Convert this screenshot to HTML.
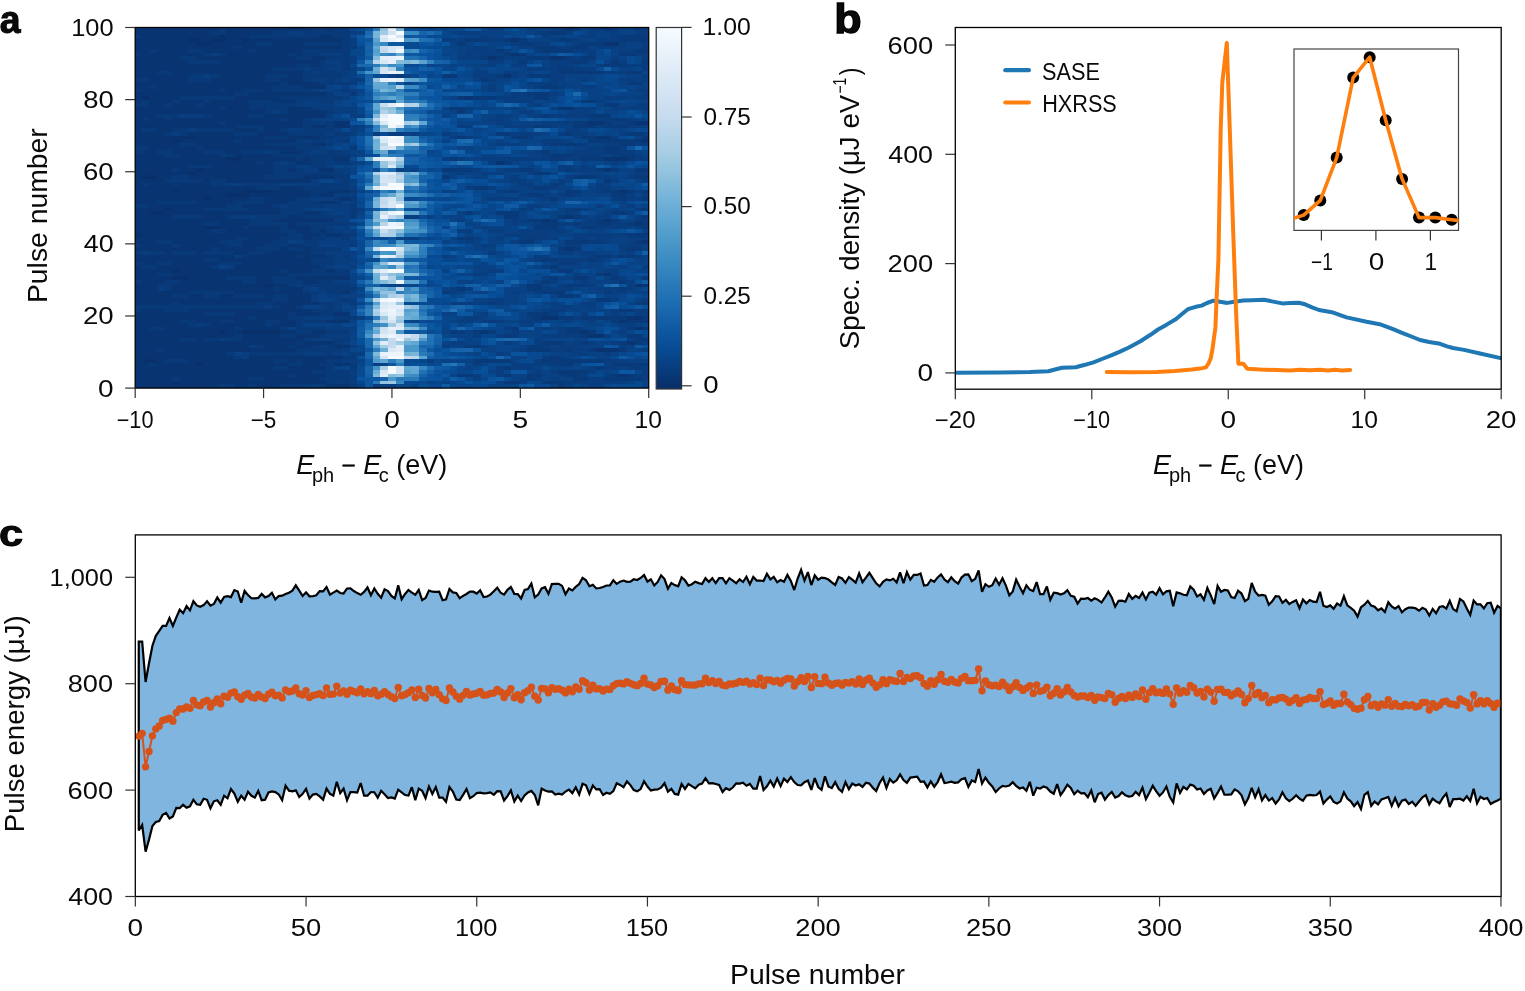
<!DOCTYPE html>
<html><head><meta charset="utf-8"><title>Figure</title>
<style>html,body{margin:0;padding:0;background:#fff;overflow:hidden}svg{display:block}
text{font-family:"Liberation Sans",Arial,sans-serif;fill:#0a0a0a}</style></head>
<body><svg width="1525" height="991" viewBox="0 0 1525 991">
<rect width="1525" height="991" fill="#fff"/>
<clipPath id="cpa"><rect x="135.2" y="27.5" width="513.5" height="360.6"/></clipPath>
<g clip-path="url(#cpa)"><g transform="translate(133.92,27.5) scale(7.7025,3.606)" shape-rendering="crispEdges">
<path fill="#083472" d="M0 99h11v1h-11zM13 99h2v1h-2zM16 99h3v1h-3zM25 99h3v1h-3zM0 98h25v1h-25zM0 97h5v1h-5zM6 97h9v1h-9zM17 97h7v1h-7zM0 96h20v1h-20zM21 96h4v1h-4zM63 96h1v1h-1zM0 95h23v1h-23zM0 94h18v1h-18zM20 94h5v1h-5zM0 93h2v1h-2zM3 93h5v1h-5zM9 93h11v1h-11zM22 93h2v1h-2zM26 93h2v1h-2zM0 92h1v1h-1zM3 92h1v1h-1zM7 92h11v1h-11zM20 92h1v1h-1zM22 92h3v1h-3zM0 91h13v1h-13zM15 91h12v1h-12zM0 90h12v1h-12zM0 89h3v1h-3zM4 89h17v1h-17zM60 89h3v1h-3zM0 88h15v1h-15zM17 88h3v1h-3zM21 88h2v1h-2zM26 88h2v1h-2zM0 87h21v1h-21zM22 87h4v1h-4zM64 87h1v1h-1zM0 86h6v1h-6zM8 86h1v1h-1zM14 86h8v1h-8zM0 85h13v1h-13zM14 85h5v1h-5zM21 85h3v1h-3zM59 85h2v1h-2zM0 84h11v1h-11zM12 84h2v1h-2zM19 84h2v1h-2zM23 84h2v1h-2zM45 84h1v1h-1zM58 84h1v1h-1zM0 83h2v1h-2zM4 83h9v1h-9zM14 83h5v1h-5zM65 83h1v1h-1zM0 82h7v1h-7zM10 82h7v1h-7zM18 82h3v1h-3zM0 81h6v1h-6zM8 81h3v1h-3zM13 81h4v1h-4zM19 81h2v1h-2zM25 81h3v1h-3zM63 81h1v1h-1zM0 80h15v1h-15zM16 80h4v1h-4zM53 80h2v1h-2zM64 80h2v1h-2zM0 79h9v1h-9zM13 79h7v1h-7zM21 79h3v1h-3zM26 79h2v1h-2zM1 78h3v1h-3zM7 78h16v1h-16zM19 77h2v1h-2zM0 76h5v1h-5zM6 76h10v1h-10zM18 76h6v1h-6zM0 75h18v1h-18zM20 75h3v1h-3zM0 74h5v1h-5zM7 74h2v1h-2zM11 74h2v1h-2zM17 74h1v1h-1zM20 74h3v1h-3zM0 73h7v1h-7zM13 73h9v1h-9zM27 73h1v1h-1zM0 72h3v1h-3zM5 72h13v1h-13zM19 72h3v1h-3zM0 71h3v1h-3zM5 71h12v1h-12zM18 71h2v1h-2zM65 71h2v1h-2zM1 70h3v1h-3zM6 70h8v1h-8zM16 70h2v1h-2zM22 70h2v1h-2zM0 69h5v1h-5zM7 69h5v1h-5zM16 69h2v1h-2zM21 69h7v1h-7zM0 68h3v1h-3zM5 68h15v1h-15zM61 68h1v1h-1zM0 67h5v1h-5zM6 67h13v1h-13zM20 67h3v1h-3zM25 67h1v1h-1zM0 66h1v1h-1zM3 66h7v1h-7zM13 66h11v1h-11zM1 65h2v1h-2zM5 65h6v1h-6zM14 65h9v1h-9zM0 64h9v1h-9zM11 64h12v1h-12zM0 63h13v1h-13zM15 63h6v1h-6zM22 63h3v1h-3zM4 62h1v1h-1zM8 62h1v1h-1zM13 62h2v1h-2zM17 62h6v1h-6zM0 61h10v1h-10zM11 61h5v1h-5zM19 61h1v1h-1zM22 61h1v1h-1zM56 61h1v1h-1zM1 60h4v1h-4zM6 60h6v1h-6zM14 60h3v1h-3zM20 60h2v1h-2zM0 59h3v1h-3zM5 59h6v1h-6zM14 59h4v1h-4zM66 59h1v1h-1zM0 58h13v1h-13zM15 58h4v1h-4zM22 58h1v1h-1zM1 57h19v1h-19zM22 57h2v1h-2zM25 57h2v1h-2zM0 56h10v1h-10zM12 56h7v1h-7zM21 56h2v1h-2zM24 56h1v1h-1zM0 55h9v1h-9zM11 55h3v1h-3zM15 55h4v1h-4zM20 55h3v1h-3zM0 54h9v1h-9zM11 54h4v1h-4zM20 54h1v1h-1zM65 54h1v1h-1zM0 53h15v1h-15zM18 53h8v1h-8zM53 53h1v1h-1zM61 53h1v1h-1zM0 52h5v1h-5zM9 52h3v1h-3zM20 52h2v1h-2zM56 52h1v1h-1zM0 51h2v1h-2zM4 51h15v1h-15zM22 51h2v1h-2zM0 50h4v1h-4zM5 50h4v1h-4zM15 50h4v1h-4zM2 49h10v1h-10zM14 49h4v1h-4zM0 48h3v1h-3zM8 48h5v1h-5zM17 48h3v1h-3zM24 48h2v1h-2zM0 47h9v1h-9zM10 47h5v1h-5zM17 47h4v1h-4zM27 47h1v1h-1zM0 46h12v1h-12zM15 46h8v1h-8zM24 46h2v1h-2zM0 45h5v1h-5zM6 45h8v1h-8zM18 45h5v1h-5zM25 45h3v1h-3zM63 45h1v1h-1zM0 44h16v1h-16zM19 44h3v1h-3zM0 43h1v1h-1zM2 43h8v1h-8zM0 42h4v1h-4zM9 42h1v1h-1zM12 42h11v1h-11zM0 41h1v1h-1zM3 41h2v1h-2zM7 41h10v1h-10zM22 41h4v1h-4zM0 40h7v1h-7zM8 40h10v1h-10zM0 39h5v1h-5zM6 39h2v1h-2zM9 39h9v1h-9zM20 39h1v1h-1zM24 39h2v1h-2zM61 39h1v1h-1zM0 38h7v1h-7zM10 38h8v1h-8zM0 37h16v1h-16zM17 37h1v1h-1zM21 37h2v1h-2zM47 37h1v1h-1zM0 36h12v1h-12zM14 36h7v1h-7zM22 36h1v1h-1zM26 36h2v1h-2zM61 36h3v1h-3zM0 35h4v1h-4zM6 35h5v1h-5zM13 35h5v1h-5zM1 34h2v1h-2zM5 34h4v1h-4zM12 34h2v1h-2zM19 34h3v1h-3zM2 33h6v1h-6zM9 33h12v1h-12zM0 32h6v1h-6zM8 32h9v1h-9zM23 32h2v1h-2zM0 31h5v1h-5zM6 31h7v1h-7zM14 31h7v1h-7zM66 31h1v1h-1zM0 30h6v1h-6zM8 30h9v1h-9zM20 30h4v1h-4zM60 30h2v1h-2zM0 29h4v1h-4zM7 29h6v1h-6zM16 29h4v1h-4zM0 28h1v1h-1zM3 28h2v1h-2zM13 28h3v1h-3zM17 28h2v1h-2zM0 27h13v1h-13zM17 27h5v1h-5zM23 27h2v1h-2zM26 27h2v1h-2zM0 26h11v1h-11zM12 26h10v1h-10zM26 26h2v1h-2zM59 26h2v1h-2zM65 26h2v1h-2zM0 25h1v1h-1zM2 25h2v1h-2zM5 25h14v1h-14zM20 25h2v1h-2zM0 24h3v1h-3zM10 24h5v1h-5zM17 24h8v1h-8zM0 23h17v1h-17zM20 23h5v1h-5zM0 22h11v1h-11zM12 22h3v1h-3zM16 22h1v1h-1zM20 22h3v1h-3zM55 22h2v1h-2zM2 21h2v1h-2zM5 21h3v1h-3zM9 21h6v1h-6zM0 20h1v1h-1zM2 20h3v1h-3zM6 20h3v1h-3zM10 20h5v1h-5zM18 20h3v1h-3zM0 19h1v1h-1zM2 19h4v1h-4zM13 19h6v1h-6zM43 19h1v1h-1zM0 18h13v1h-13zM15 18h10v1h-10zM1 17h10v1h-10zM12 17h2v1h-2zM17 17h1v1h-1zM0 16h2v1h-2zM3 16h15v1h-15zM22 16h3v1h-3zM0 15h19v1h-19zM20 15h4v1h-4zM2 14h5v1h-5zM10 14h7v1h-7zM19 14h3v1h-3zM0 13h7v1h-7zM11 13h6v1h-6zM20 13h2v1h-2zM48 13h1v1h-1zM0 12h3v1h-3zM5 12h17v1h-17zM0 11h18v1h-18zM0 10h21v1h-21zM23 10h1v1h-1zM0 9h7v1h-7zM11 9h13v1h-13zM0 8h6v1h-6zM8 8h13v1h-13zM23 8h2v1h-2zM46 8h1v1h-1zM54 8h2v1h-2zM1 7h8v1h-8zM12 7h8v1h-8zM21 7h1v1h-1zM49 7h1v1h-1zM0 6h2v1h-2zM3 6h4v1h-4zM9 6h6v1h-6zM16 6h6v1h-6zM0 5h13v1h-13zM14 5h13v1h-13zM0 4h8v1h-8zM10 4h6v1h-6zM18 4h4v1h-4zM61 4h2v1h-2zM0 3h7v1h-7zM9 3h1v1h-1zM12 3h2v1h-2zM15 3h12v1h-12zM49 3h1v1h-1zM1 2h10v1h-10zM12 2h3v1h-3zM24 2h2v1h-2zM0 1h10v1h-10zM12 1h6v1h-6zM0 0h11v1h-11zM12 0h11v1h-11zM25 0h1v1h-1zM56 0h1v1h-1zM61 0h1v1h-1z"/>
<path fill="#083978" d="M11 99h2v1h-2zM15 99h1v1h-1zM19 99h4v1h-4zM24 99h1v1h-1zM28 99h1v1h-1zM55 99h1v1h-1zM25 98h1v1h-1zM27 98h1v1h-1zM48 98h2v1h-2zM53 98h3v1h-3zM5 97h1v1h-1zM15 97h2v1h-2zM24 97h4v1h-4zM51 97h1v1h-1zM57 97h2v1h-2zM61 97h5v1h-5zM20 96h1v1h-1zM25 96h3v1h-3zM42 96h2v1h-2zM48 96h1v1h-1zM51 96h2v1h-2zM56 96h2v1h-2zM62 96h1v1h-1zM64 96h1v1h-1zM23 95h5v1h-5zM55 95h4v1h-4zM18 94h2v1h-2zM25 94h1v1h-1zM28 94h1v1h-1zM48 94h1v1h-1zM60 94h1v1h-1zM65 94h1v1h-1zM2 93h1v1h-1zM20 93h2v1h-2zM24 93h2v1h-2zM28 93h1v1h-1zM55 93h2v1h-2zM62 93h5v1h-5zM4 92h3v1h-3zM18 92h2v1h-2zM21 92h1v1h-1zM25 92h2v1h-2zM44 92h5v1h-5zM53 92h8v1h-8zM13 91h1v1h-1zM27 91h2v1h-2zM54 91h1v1h-1zM12 90h1v1h-1zM15 90h7v1h-7zM25 90h1v1h-1zM3 89h1v1h-1zM21 89h6v1h-6zM51 89h3v1h-3zM56 89h1v1h-1zM59 89h1v1h-1zM63 89h1v1h-1zM16 88h1v1h-1zM20 88h1v1h-1zM23 88h1v1h-1zM25 88h1v1h-1zM43 88h2v1h-2zM51 88h2v1h-2zM21 87h1v1h-1zM26 87h1v1h-1zM53 87h3v1h-3zM58 87h1v1h-1zM63 87h1v1h-1zM65 87h1v1h-1zM6 86h2v1h-2zM9 86h2v1h-2zM12 86h2v1h-2zM22 86h1v1h-1zM26 86h2v1h-2zM65 86h2v1h-2zM13 85h1v1h-1zM19 85h2v1h-2zM24 85h1v1h-1zM48 85h1v1h-1zM58 85h1v1h-1zM64 85h2v1h-2zM21 84h2v1h-2zM25 84h3v1h-3zM41 84h1v1h-1zM44 84h1v1h-1zM46 84h1v1h-1zM56 84h2v1h-2zM59 84h1v1h-1zM2 83h2v1h-2zM13 83h1v1h-1zM19 83h1v1h-1zM21 83h4v1h-4zM49 83h1v1h-1zM56 83h2v1h-2zM64 83h1v1h-1zM66 83h1v1h-1zM7 82h1v1h-1zM9 82h1v1h-1zM17 82h1v1h-1zM21 82h1v1h-1zM6 81h2v1h-2zM11 81h2v1h-2zM17 81h2v1h-2zM21 81h4v1h-4zM46 81h1v1h-1zM62 81h1v1h-1zM64 81h3v1h-3zM15 80h1v1h-1zM20 80h2v1h-2zM26 80h3v1h-3zM52 80h1v1h-1zM55 80h2v1h-2zM58 80h6v1h-6zM66 80h1v1h-1zM9 79h4v1h-4zM20 79h1v1h-1zM24 79h2v1h-2zM51 79h3v1h-3zM0 78h1v1h-1zM4 78h3v1h-3zM23 78h4v1h-4zM63 78h2v1h-2zM0 77h17v1h-17zM18 77h1v1h-1zM21 77h1v1h-1zM25 77h1v1h-1zM5 76h1v1h-1zM16 76h2v1h-2zM24 76h2v1h-2zM28 76h1v1h-1zM46 76h1v1h-1zM65 76h2v1h-2zM18 75h2v1h-2zM27 75h1v1h-1zM60 75h2v1h-2zM5 74h2v1h-2zM9 74h2v1h-2zM13 74h4v1h-4zM18 74h2v1h-2zM55 74h2v1h-2zM7 73h6v1h-6zM22 73h2v1h-2zM25 73h2v1h-2zM40 73h1v1h-1zM53 73h3v1h-3zM61 73h1v1h-1zM4 72h1v1h-1zM18 72h1v1h-1zM24 72h5v1h-5zM42 72h1v1h-1zM51 72h2v1h-2zM63 72h1v1h-1zM3 71h2v1h-2zM20 71h1v1h-1zM22 71h6v1h-6zM51 71h2v1h-2zM56 71h3v1h-3zM0 70h1v1h-1zM4 70h2v1h-2zM14 70h2v1h-2zM18 70h4v1h-4zM24 70h2v1h-2zM53 70h1v1h-1zM63 70h1v1h-1zM12 69h4v1h-4zM18 69h3v1h-3zM54 69h1v1h-1zM57 69h2v1h-2zM62 69h1v1h-1zM66 69h1v1h-1zM3 68h2v1h-2zM20 68h8v1h-8zM60 68h1v1h-1zM19 67h1v1h-1zM23 67h2v1h-2zM26 67h2v1h-2zM55 67h2v1h-2zM1 66h2v1h-2zM10 66h1v1h-1zM24 66h1v1h-1zM54 66h1v1h-1zM0 65h1v1h-1zM3 65h2v1h-2zM11 65h3v1h-3zM23 65h3v1h-3zM56 65h1v1h-1zM9 64h2v1h-2zM23 64h3v1h-3zM53 64h2v1h-2zM59 64h1v1h-1zM14 63h1v1h-1zM21 63h1v1h-1zM25 63h1v1h-1zM27 63h1v1h-1zM60 63h2v1h-2zM63 63h2v1h-2zM0 62h1v1h-1zM2 62h2v1h-2zM5 62h3v1h-3zM9 62h4v1h-4zM15 62h2v1h-2zM23 62h2v1h-2zM10 61h1v1h-1zM16 61h3v1h-3zM20 61h2v1h-2zM23 61h4v1h-4zM55 61h1v1h-1zM57 61h1v1h-1zM64 61h2v1h-2zM0 60h1v1h-1zM5 60h1v1h-1zM12 60h2v1h-2zM17 60h3v1h-3zM22 60h2v1h-2zM28 60h1v1h-1zM3 59h2v1h-2zM11 59h3v1h-3zM18 59h2v1h-2zM22 59h2v1h-2zM50 59h2v1h-2zM56 59h5v1h-5zM65 59h1v1h-1zM13 58h2v1h-2zM19 58h3v1h-3zM23 58h2v1h-2zM27 58h1v1h-1zM42 58h2v1h-2zM51 58h1v1h-1zM20 57h2v1h-2zM24 57h1v1h-1zM27 57h2v1h-2zM64 57h3v1h-3zM10 56h2v1h-2zM19 56h2v1h-2zM23 56h1v1h-1zM25 56h1v1h-1zM14 55h1v1h-1zM19 55h1v1h-1zM23 55h2v1h-2zM52 55h3v1h-3zM58 55h2v1h-2zM66 55h1v1h-1zM9 54h2v1h-2zM15 54h5v1h-5zM21 54h7v1h-7zM53 54h2v1h-2zM57 54h1v1h-1zM60 54h2v1h-2zM64 54h1v1h-1zM66 54h1v1h-1zM15 53h3v1h-3zM51 53h2v1h-2zM54 53h1v1h-1zM60 53h1v1h-1zM62 53h1v1h-1zM65 53h1v1h-1zM5 52h4v1h-4zM12 52h1v1h-1zM16 52h4v1h-4zM22 52h5v1h-5zM28 52h1v1h-1zM48 52h2v1h-2zM55 52h1v1h-1zM57 52h1v1h-1zM66 52h1v1h-1zM19 51h3v1h-3zM24 51h1v1h-1zM28 51h1v1h-1zM43 51h1v1h-1zM47 51h3v1h-3zM62 51h2v1h-2zM9 50h6v1h-6zM19 50h3v1h-3zM28 50h1v1h-1zM57 50h1v1h-1zM66 50h1v1h-1zM0 49h2v1h-2zM12 49h2v1h-2zM18 49h1v1h-1zM20 49h5v1h-5zM28 49h1v1h-1zM3 48h5v1h-5zM13 48h4v1h-4zM20 48h4v1h-4zM26 48h1v1h-1zM15 47h2v1h-2zM21 47h2v1h-2zM26 47h1v1h-1zM28 47h1v1h-1zM54 47h1v1h-1zM63 47h1v1h-1zM66 47h1v1h-1zM23 46h1v1h-1zM51 46h2v1h-2zM56 46h1v1h-1zM62 46h2v1h-2zM23 45h2v1h-2zM28 45h1v1h-1zM48 45h2v1h-2zM56 45h2v1h-2zM61 45h2v1h-2zM64 45h1v1h-1zM66 45h1v1h-1zM16 44h3v1h-3zM22 44h6v1h-6zM44 44h2v1h-2zM52 44h2v1h-2zM1 43h1v1h-1zM10 43h2v1h-2zM14 43h5v1h-5zM24 43h4v1h-4zM54 43h1v1h-1zM4 42h5v1h-5zM10 42h2v1h-2zM27 42h1v1h-1zM61 42h1v1h-1zM5 41h2v1h-2zM17 41h5v1h-5zM26 41h2v1h-2zM40 41h1v1h-1zM57 41h3v1h-3zM65 41h2v1h-2zM18 40h9v1h-9zM52 40h2v1h-2zM5 39h1v1h-1zM18 39h2v1h-2zM21 39h1v1h-1zM40 39h4v1h-4zM50 39h2v1h-2zM56 39h1v1h-1zM60 39h1v1h-1zM62 39h1v1h-1zM65 39h2v1h-2zM7 38h3v1h-3zM18 38h3v1h-3zM23 38h2v1h-2zM16 37h1v1h-1zM18 37h1v1h-1zM20 37h1v1h-1zM23 37h2v1h-2zM26 37h2v1h-2zM48 37h1v1h-1zM21 36h1v1h-1zM23 36h3v1h-3zM41 36h1v1h-1zM54 36h2v1h-2zM58 36h3v1h-3zM64 36h1v1h-1zM4 35h2v1h-2zM11 35h2v1h-2zM18 35h10v1h-10zM54 35h3v1h-3zM63 35h2v1h-2zM0 34h1v1h-1zM3 34h2v1h-2zM9 34h3v1h-3zM14 34h3v1h-3zM18 34h1v1h-1zM22 34h1v1h-1zM25 34h2v1h-2zM53 34h1v1h-1zM61 34h2v1h-2zM0 33h2v1h-2zM8 33h1v1h-1zM21 33h3v1h-3zM28 33h1v1h-1zM61 33h2v1h-2zM6 32h2v1h-2zM17 32h6v1h-6zM25 32h1v1h-1zM54 32h4v1h-4zM63 32h2v1h-2zM13 31h1v1h-1zM21 31h1v1h-1zM23 31h2v1h-2zM27 31h1v1h-1zM59 31h7v1h-7zM17 30h3v1h-3zM24 30h2v1h-2zM42 30h1v1h-1zM49 30h2v1h-2zM58 30h2v1h-2zM66 30h1v1h-1zM4 29h1v1h-1zM6 29h1v1h-1zM13 29h3v1h-3zM20 29h5v1h-5zM26 29h2v1h-2zM47 29h2v1h-2zM56 29h1v1h-1zM64 29h2v1h-2zM1 28h2v1h-2zM5 28h2v1h-2zM8 28h5v1h-5zM16 28h1v1h-1zM19 28h1v1h-1zM22 28h4v1h-4zM13 27h4v1h-4zM22 27h1v1h-1zM25 27h1v1h-1zM52 27h2v1h-2zM57 27h3v1h-3zM61 27h3v1h-3zM11 26h1v1h-1zM22 26h2v1h-2zM25 26h1v1h-1zM57 26h2v1h-2zM61 26h1v1h-1zM64 26h1v1h-1zM1 25h1v1h-1zM4 25h1v1h-1zM19 25h1v1h-1zM22 25h1v1h-1zM62 25h2v1h-2zM3 24h3v1h-3zM9 24h1v1h-1zM15 24h2v1h-2zM53 24h1v1h-1zM59 24h3v1h-3zM17 23h1v1h-1zM19 23h1v1h-1zM25 23h1v1h-1zM42 23h1v1h-1zM11 22h1v1h-1zM15 22h1v1h-1zM17 22h3v1h-3zM23 22h1v1h-1zM41 22h2v1h-2zM0 21h2v1h-2zM4 21h1v1h-1zM8 21h1v1h-1zM15 21h6v1h-6zM61 21h2v1h-2zM1 20h1v1h-1zM5 20h1v1h-1zM9 20h1v1h-1zM15 20h3v1h-3zM21 20h1v1h-1zM24 20h2v1h-2zM58 20h2v1h-2zM6 19h7v1h-7zM19 19h8v1h-8zM42 19h1v1h-1zM44 19h3v1h-3zM52 19h2v1h-2zM13 18h2v1h-2zM25 18h1v1h-1zM28 18h1v1h-1zM51 18h3v1h-3zM0 17h1v1h-1zM11 17h1v1h-1zM14 17h3v1h-3zM18 17h5v1h-5zM27 17h1v1h-1zM2 16h1v1h-1zM18 16h4v1h-4zM53 16h2v1h-2zM19 15h1v1h-1zM24 15h5v1h-5zM64 15h2v1h-2zM0 14h2v1h-2zM7 14h3v1h-3zM17 14h2v1h-2zM22 14h1v1h-1zM25 14h1v1h-1zM45 14h1v1h-1zM7 13h2v1h-2zM10 13h1v1h-1zM17 13h3v1h-3zM22 13h5v1h-5zM34 13h1v1h-1zM40 13h2v1h-2zM47 13h1v1h-1zM51 13h3v1h-3zM3 12h2v1h-2zM22 12h1v1h-1zM24 12h3v1h-3zM55 12h6v1h-6zM64 12h2v1h-2zM18 11h4v1h-4zM23 11h2v1h-2zM27 11h1v1h-1zM55 11h2v1h-2zM21 10h2v1h-2zM24 10h2v1h-2zM27 10h1v1h-1zM61 10h3v1h-3zM7 9h4v1h-4zM24 9h1v1h-1zM27 9h1v1h-1zM50 9h1v1h-1zM57 9h2v1h-2zM62 9h1v1h-1zM66 9h1v1h-1zM6 8h2v1h-2zM21 8h2v1h-2zM25 8h3v1h-3zM45 8h1v1h-1zM47 8h1v1h-1zM51 8h3v1h-3zM56 8h1v1h-1zM58 8h2v1h-2zM0 7h1v1h-1zM9 7h1v1h-1zM11 7h1v1h-1zM20 7h1v1h-1zM22 7h2v1h-2zM27 7h1v1h-1zM48 7h1v1h-1zM50 7h1v1h-1zM63 7h2v1h-2zM2 6h1v1h-1zM7 6h2v1h-2zM15 6h1v1h-1zM22 6h6v1h-6zM47 6h1v1h-1zM53 6h4v1h-4zM65 6h2v1h-2zM13 5h1v1h-1zM27 5h2v1h-2zM52 5h3v1h-3zM57 5h2v1h-2zM66 5h1v1h-1zM16 4h2v1h-2zM22 4h6v1h-6zM42 4h1v1h-1zM50 4h2v1h-2zM58 4h3v1h-3zM27 3h1v1h-1zM43 3h3v1h-3zM48 3h1v1h-1zM50 3h1v1h-1zM55 3h2v1h-2zM63 3h4v1h-4zM0 2h1v1h-1zM15 2h9v1h-9zM26 2h2v1h-2zM63 2h4v1h-4zM10 1h2v1h-2zM18 1h2v1h-2zM22 1h6v1h-6zM53 1h3v1h-3zM11 0h1v1h-1zM23 0h2v1h-2zM26 0h2v1h-2zM55 0h1v1h-1zM57 0h1v1h-1zM60 0h1v1h-1zM62 0h1v1h-1zM65 0h1v1h-1z"/>
<path fill="#083d7f" d="M23 99h1v1h-1zM31 99h3v1h-3zM56 99h1v1h-1zM59 99h2v1h-2zM26 98h1v1h-1zM28 98h1v1h-1zM50 98h1v1h-1zM56 98h8v1h-8zM28 97h1v1h-1zM44 97h1v1h-1zM50 97h1v1h-1zM52 97h1v1h-1zM54 97h1v1h-1zM59 97h2v1h-2zM66 97h1v1h-1zM28 96h1v1h-1zM44 96h1v1h-1zM47 96h1v1h-1zM55 96h1v1h-1zM58 96h1v1h-1zM61 96h1v1h-1zM65 96h2v1h-2zM28 95h1v1h-1zM47 95h1v1h-1zM52 95h1v1h-1zM54 95h1v1h-1zM59 95h1v1h-1zM66 95h1v1h-1zM47 94h1v1h-1zM49 94h3v1h-3zM59 94h1v1h-1zM61 94h2v1h-2zM64 94h1v1h-1zM66 94h1v1h-1zM31 93h1v1h-1zM44 93h1v1h-1zM49 93h6v1h-6zM27 92h2v1h-2zM38 92h1v1h-1zM52 92h1v1h-1zM61 92h3v1h-3zM14 91h1v1h-1zM53 91h1v1h-1zM55 91h1v1h-1zM14 90h1v1h-1zM22 90h3v1h-3zM26 90h1v1h-1zM28 90h2v1h-2zM47 90h1v1h-1zM57 90h2v1h-2zM61 90h1v1h-1zM27 89h1v1h-1zM50 89h1v1h-1zM54 89h2v1h-2zM57 89h2v1h-2zM66 89h1v1h-1zM15 88h1v1h-1zM24 88h1v1h-1zM28 88h1v1h-1zM40 88h1v1h-1zM45 88h1v1h-1zM53 88h1v1h-1zM55 88h3v1h-3zM63 88h1v1h-1zM27 87h1v1h-1zM41 87h2v1h-2zM48 87h1v1h-1zM52 87h1v1h-1zM57 87h1v1h-1zM59 87h1v1h-1zM62 87h1v1h-1zM66 87h1v1h-1zM11 86h1v1h-1zM23 86h3v1h-3zM52 86h1v1h-1zM25 85h3v1h-3zM44 85h1v1h-1zM47 85h1v1h-1zM49 85h1v1h-1zM53 85h5v1h-5zM61 85h1v1h-1zM42 84h1v1h-1zM49 84h1v1h-1zM55 84h1v1h-1zM63 84h1v1h-1zM25 83h4v1h-4zM48 83h1v1h-1zM53 83h1v1h-1zM55 83h1v1h-1zM8 82h1v1h-1zM26 82h1v1h-1zM51 82h1v1h-1zM63 82h2v1h-2zM42 81h2v1h-2zM45 81h1v1h-1zM47 81h1v1h-1zM50 81h3v1h-3zM56 81h1v1h-1zM59 81h1v1h-1zM22 80h4v1h-4zM29 80h1v1h-1zM43 80h2v1h-2zM51 80h1v1h-1zM57 80h1v1h-1zM45 79h1v1h-1zM54 79h1v1h-1zM58 79h1v1h-1zM62 79h1v1h-1zM65 79h2v1h-2zM53 78h3v1h-3zM62 78h1v1h-1zM65 78h2v1h-2zM17 77h1v1h-1zM24 77h1v1h-1zM26 77h1v1h-1zM55 77h2v1h-2zM59 77h1v1h-1zM26 76h2v1h-2zM41 76h5v1h-5zM47 76h1v1h-1zM54 76h1v1h-1zM58 76h2v1h-2zM23 75h1v1h-1zM26 75h1v1h-1zM28 75h1v1h-1zM46 75h2v1h-2zM62 75h1v1h-1zM66 75h1v1h-1zM23 74h1v1h-1zM25 74h2v1h-2zM57 74h1v1h-1zM24 73h1v1h-1zM28 73h1v1h-1zM41 73h1v1h-1zM49 73h1v1h-1zM52 73h1v1h-1zM62 73h2v1h-2zM66 73h1v1h-1zM3 72h1v1h-1zM22 72h1v1h-1zM41 72h1v1h-1zM43 72h1v1h-1zM53 72h4v1h-4zM60 72h3v1h-3zM64 72h1v1h-1zM21 71h1v1h-1zM28 71h1v1h-1zM55 71h1v1h-1zM59 71h1v1h-1zM64 71h1v1h-1zM26 70h2v1h-2zM54 70h1v1h-1zM58 70h1v1h-1zM62 70h1v1h-1zM64 70h1v1h-1zM53 69h1v1h-1zM63 69h1v1h-1zM44 68h2v1h-2zM57 68h1v1h-1zM62 68h1v1h-1zM46 67h2v1h-2zM61 67h2v1h-2zM12 66h1v1h-1zM25 66h1v1h-1zM28 66h1v1h-1zM53 66h1v1h-1zM63 66h1v1h-1zM66 66h1v1h-1zM26 65h2v1h-2zM55 65h1v1h-1zM57 65h1v1h-1zM26 64h3v1h-3zM52 64h1v1h-1zM55 64h4v1h-4zM60 64h1v1h-1zM13 63h1v1h-1zM26 63h1v1h-1zM40 63h1v1h-1zM52 63h2v1h-2zM59 63h1v1h-1zM62 63h1v1h-1zM65 63h1v1h-1zM1 62h1v1h-1zM25 62h4v1h-4zM46 62h1v1h-1zM55 62h2v1h-2zM58 62h2v1h-2zM64 62h1v1h-1zM63 61h1v1h-1zM26 60h2v1h-2zM45 60h2v1h-2zM56 60h2v1h-2zM63 60h3v1h-3zM21 59h1v1h-1zM24 59h5v1h-5zM43 59h1v1h-1zM49 59h1v1h-1zM61 59h1v1h-1zM64 59h1v1h-1zM25 58h2v1h-2zM35 58h2v1h-2zM44 58h1v1h-1zM47 58h1v1h-1zM50 58h1v1h-1zM52 58h3v1h-3zM57 58h2v1h-2zM60 58h2v1h-2zM64 58h3v1h-3zM48 57h6v1h-6zM57 57h7v1h-7zM26 56h3v1h-3zM42 56h2v1h-2zM46 56h2v1h-2zM50 56h6v1h-6zM25 55h1v1h-1zM27 55h1v1h-1zM45 55h1v1h-1zM60 55h4v1h-4zM65 55h1v1h-1zM28 54h1v1h-1zM49 54h1v1h-1zM52 54h1v1h-1zM55 54h2v1h-2zM58 54h2v1h-2zM62 54h2v1h-2zM26 53h2v1h-2zM42 53h1v1h-1zM49 53h2v1h-2zM59 53h1v1h-1zM66 53h1v1h-1zM13 52h3v1h-3zM27 52h1v1h-1zM35 52h2v1h-2zM58 52h1v1h-1zM60 52h2v1h-2zM65 52h1v1h-1zM25 51h1v1h-1zM27 51h1v1h-1zM56 51h1v1h-1zM61 51h1v1h-1zM64 51h1v1h-1zM22 50h1v1h-1zM26 50h2v1h-2zM29 50h1v1h-1zM50 50h2v1h-2zM56 50h1v1h-1zM58 50h1v1h-1zM62 50h1v1h-1zM65 50h1v1h-1zM19 49h1v1h-1zM25 49h3v1h-3zM51 49h2v1h-2zM60 49h1v1h-1zM64 49h1v1h-1zM28 48h1v1h-1zM23 47h3v1h-3zM46 47h4v1h-4zM53 47h1v1h-1zM62 47h1v1h-1zM64 47h2v1h-2zM26 46h3v1h-3zM50 46h1v1h-1zM53 46h1v1h-1zM55 46h1v1h-1zM57 46h1v1h-1zM64 46h1v1h-1zM66 46h1v1h-1zM47 45h1v1h-1zM60 45h1v1h-1zM65 45h1v1h-1zM28 44h1v1h-1zM43 44h1v1h-1zM46 44h1v1h-1zM51 44h1v1h-1zM54 44h1v1h-1zM60 44h2v1h-2zM12 43h2v1h-2zM19 43h5v1h-5zM50 43h2v1h-2zM55 43h1v1h-1zM60 43h2v1h-2zM23 42h1v1h-1zM26 42h1v1h-1zM28 42h1v1h-1zM49 42h2v1h-2zM55 42h1v1h-1zM62 42h1v1h-1zM66 42h1v1h-1zM49 41h1v1h-1zM56 41h1v1h-1zM60 41h2v1h-2zM64 41h1v1h-1zM27 40h1v1h-1zM42 40h1v1h-1zM45 40h3v1h-3zM51 40h1v1h-1zM65 40h2v1h-2zM22 39h2v1h-2zM26 39h2v1h-2zM44 39h1v1h-1zM48 39h2v1h-2zM55 39h1v1h-1zM57 39h3v1h-3zM21 38h2v1h-2zM25 38h1v1h-1zM55 38h2v1h-2zM58 38h1v1h-1zM19 37h1v1h-1zM25 37h1v1h-1zM28 37h1v1h-1zM46 37h1v1h-1zM62 37h1v1h-1zM40 36h1v1h-1zM42 36h1v1h-1zM45 36h9v1h-9zM56 36h2v1h-2zM65 36h2v1h-2zM28 35h1v1h-1zM53 35h1v1h-1zM57 35h4v1h-4zM62 35h1v1h-1zM65 35h1v1h-1zM17 34h1v1h-1zM23 34h2v1h-2zM27 34h1v1h-1zM52 34h1v1h-1zM57 34h4v1h-4zM63 34h2v1h-2zM24 33h1v1h-1zM59 33h2v1h-2zM63 33h1v1h-1zM47 32h3v1h-3zM53 32h1v1h-1zM58 32h1v1h-1zM61 32h2v1h-2zM65 32h2v1h-2zM22 31h1v1h-1zM25 31h2v1h-2zM53 31h3v1h-3zM26 30h2v1h-2zM41 30h1v1h-1zM43 30h1v1h-1zM51 30h1v1h-1zM62 30h1v1h-1zM5 29h1v1h-1zM25 29h1v1h-1zM28 29h1v1h-1zM31 29h1v1h-1zM33 29h2v1h-2zM36 29h1v1h-1zM40 29h1v1h-1zM49 29h4v1h-4zM55 29h1v1h-1zM57 29h2v1h-2zM63 29h1v1h-1zM66 29h1v1h-1zM7 28h1v1h-1zM20 28h2v1h-2zM26 28h1v1h-1zM28 28h1v1h-1zM56 28h2v1h-2zM28 27h2v1h-2zM42 27h2v1h-2zM48 27h4v1h-4zM54 27h1v1h-1zM60 27h1v1h-1zM64 27h2v1h-2zM24 26h1v1h-1zM47 26h2v1h-2zM53 26h4v1h-4zM62 26h2v1h-2zM23 25h1v1h-1zM46 25h2v1h-2zM59 25h3v1h-3zM64 25h1v1h-1zM6 24h3v1h-3zM25 24h1v1h-1zM28 24h2v1h-2zM47 24h2v1h-2zM52 24h1v1h-1zM54 24h5v1h-5zM18 23h1v1h-1zM26 23h3v1h-3zM50 23h2v1h-2zM57 23h2v1h-2zM24 22h5v1h-5zM43 22h1v1h-1zM49 22h1v1h-1zM54 22h1v1h-1zM57 22h3v1h-3zM62 22h5v1h-5zM21 21h5v1h-5zM52 21h1v1h-1zM65 21h2v1h-2zM22 20h2v1h-2zM48 20h4v1h-4zM60 20h1v1h-1zM27 19h1v1h-1zM47 19h5v1h-5zM61 19h3v1h-3zM65 19h2v1h-2zM49 18h2v1h-2zM54 18h1v1h-1zM66 18h1v1h-1zM23 17h1v1h-1zM26 17h1v1h-1zM28 17h1v1h-1zM46 17h1v1h-1zM65 17h2v1h-2zM27 16h1v1h-1zM46 16h1v1h-1zM52 16h1v1h-1zM55 16h1v1h-1zM58 16h2v1h-2zM51 15h4v1h-4zM23 14h2v1h-2zM26 14h1v1h-1zM28 14h2v1h-2zM46 14h1v1h-1zM54 14h2v1h-2zM58 14h1v1h-1zM63 14h2v1h-2zM66 14h1v1h-1zM9 13h1v1h-1zM27 13h1v1h-1zM33 13h1v1h-1zM44 13h3v1h-3zM49 13h1v1h-1zM54 13h2v1h-2zM66 13h1v1h-1zM23 12h1v1h-1zM27 12h1v1h-1zM44 12h2v1h-2zM48 12h2v1h-2zM54 12h1v1h-1zM61 12h3v1h-3zM22 11h1v1h-1zM25 11h2v1h-2zM28 11h1v1h-1zM51 11h4v1h-4zM57 11h3v1h-3zM66 11h1v1h-1zM26 10h1v1h-1zM45 10h2v1h-2zM49 10h2v1h-2zM54 10h3v1h-3zM60 10h1v1h-1zM64 10h3v1h-3zM25 9h2v1h-2zM28 9h1v1h-1zM46 9h2v1h-2zM54 9h3v1h-3zM63 9h1v1h-1zM28 8h1v1h-1zM42 8h3v1h-3zM48 8h3v1h-3zM57 8h1v1h-1zM62 8h1v1h-1zM66 8h1v1h-1zM10 7h1v1h-1zM24 7h3v1h-3zM43 7h1v1h-1zM45 7h3v1h-3zM59 7h1v1h-1zM65 7h2v1h-2zM43 6h4v1h-4zM48 6h1v1h-1zM52 6h1v1h-1zM57 6h3v1h-3zM63 6h2v1h-2zM44 5h2v1h-2zM50 5h2v1h-2zM55 5h2v1h-2zM60 5h4v1h-4zM28 4h1v1h-1zM49 4h1v1h-1zM52 4h2v1h-2zM57 4h1v1h-1zM63 4h1v1h-1zM66 4h1v1h-1zM28 3h1v1h-1zM40 3h3v1h-3zM46 3h2v1h-2zM54 3h1v1h-1zM57 3h1v1h-1zM60 3h3v1h-3zM45 2h1v1h-1zM53 2h1v1h-1zM58 2h2v1h-2zM62 2h1v1h-1zM20 1h2v1h-2zM28 1h1v1h-1zM42 1h3v1h-3zM52 1h1v1h-1zM56 1h1v1h-1zM59 1h1v1h-1zM62 1h1v1h-1zM65 1h2v1h-2zM46 0h2v1h-2zM51 0h1v1h-1zM54 0h1v1h-1zM59 0h1v1h-1zM66 0h1v1h-1z"/>
<path fill="#084285" d="M29 99h1v1h-1zM36 99h1v1h-1zM46 99h4v1h-4zM54 99h1v1h-1zM58 99h1v1h-1zM66 99h1v1h-1zM38 98h1v1h-1zM40 98h1v1h-1zM47 98h1v1h-1zM64 98h1v1h-1zM66 98h1v1h-1zM49 97h1v1h-1zM53 97h1v1h-1zM55 97h2v1h-2zM41 96h1v1h-1zM49 96h2v1h-2zM53 96h2v1h-2zM46 95h1v1h-1zM51 95h1v1h-1zM53 95h1v1h-1zM61 95h1v1h-1zM26 94h1v1h-1zM43 94h1v1h-1zM52 94h1v1h-1zM54 94h3v1h-3zM58 94h1v1h-1zM63 94h1v1h-1zM32 93h1v1h-1zM45 93h1v1h-1zM57 93h1v1h-1zM61 93h1v1h-1zM29 92h1v1h-1zM40 92h4v1h-4zM49 92h1v1h-1zM64 92h3v1h-3zM49 91h2v1h-2zM56 91h1v1h-1zM60 91h2v1h-2zM13 90h1v1h-1zM27 90h1v1h-1zM44 90h1v1h-1zM48 90h1v1h-1zM54 90h3v1h-3zM59 90h2v1h-2zM62 90h1v1h-1zM45 89h2v1h-2zM49 89h1v1h-1zM64 89h2v1h-2zM41 88h2v1h-2zM46 88h1v1h-1zM50 88h1v1h-1zM54 88h1v1h-1zM58 88h3v1h-3zM64 88h1v1h-1zM40 87h1v1h-1zM43 87h2v1h-2zM49 87h1v1h-1zM56 87h1v1h-1zM60 87h2v1h-2zM28 86h1v1h-1zM43 86h1v1h-1zM53 86h1v1h-1zM57 86h2v1h-2zM64 86h1v1h-1zM28 85h1v1h-1zM41 85h3v1h-3zM50 85h3v1h-3zM63 85h1v1h-1zM28 84h1v1h-1zM40 84h1v1h-1zM43 84h1v1h-1zM48 84h1v1h-1zM50 84h3v1h-3zM62 84h1v1h-1zM20 83h1v1h-1zM40 83h1v1h-1zM52 83h1v1h-1zM54 83h1v1h-1zM58 83h1v1h-1zM63 83h1v1h-1zM22 82h4v1h-4zM50 82h1v1h-1zM59 82h2v1h-2zM62 82h1v1h-1zM65 82h1v1h-1zM28 81h1v1h-1zM36 81h1v1h-1zM41 81h1v1h-1zM44 81h1v1h-1zM48 81h2v1h-2zM53 81h1v1h-1zM55 81h1v1h-1zM58 81h1v1h-1zM61 81h1v1h-1zM42 80h1v1h-1zM45 80h1v1h-1zM50 80h1v1h-1zM40 79h2v1h-2zM44 79h1v1h-1zM50 79h1v1h-1zM61 79h1v1h-1zM63 79h1v1h-1zM27 78h1v1h-1zM49 78h1v1h-1zM52 78h1v1h-1zM56 78h6v1h-6zM22 77h2v1h-2zM28 77h1v1h-1zM54 77h1v1h-1zM57 77h2v1h-2zM29 76h1v1h-1zM48 76h3v1h-3zM53 76h1v1h-1zM55 76h1v1h-1zM64 76h1v1h-1zM24 75h2v1h-2zM44 75h2v1h-2zM48 75h2v1h-2zM59 75h1v1h-1zM65 75h1v1h-1zM24 74h1v1h-1zM27 74h3v1h-3zM48 74h2v1h-2zM54 74h1v1h-1zM61 74h2v1h-2zM42 73h1v1h-1zM44 73h2v1h-2zM48 73h1v1h-1zM50 73h2v1h-2zM59 73h2v1h-2zM64 73h2v1h-2zM23 72h1v1h-1zM29 72h1v1h-1zM40 72h1v1h-1zM48 72h3v1h-3zM57 72h1v1h-1zM59 72h1v1h-1zM65 72h1v1h-1zM33 71h2v1h-2zM50 71h1v1h-1zM53 71h1v1h-1zM28 70h1v1h-1zM42 70h2v1h-2zM47 70h1v1h-1zM52 70h1v1h-1zM57 70h1v1h-1zM59 70h3v1h-3zM28 69h1v1h-1zM55 69h2v1h-2zM59 69h1v1h-1zM61 69h1v1h-1zM28 68h1v1h-1zM42 68h2v1h-2zM58 68h2v1h-2zM40 67h1v1h-1zM44 67h2v1h-2zM54 67h1v1h-1zM60 67h1v1h-1zM65 67h2v1h-2zM11 66h1v1h-1zM26 66h2v1h-2zM44 66h3v1h-3zM52 66h1v1h-1zM55 66h6v1h-6zM62 66h1v1h-1zM28 65h1v1h-1zM45 65h1v1h-1zM54 65h1v1h-1zM59 65h2v1h-2zM64 65h2v1h-2zM51 64h1v1h-1zM61 64h1v1h-1zM65 64h2v1h-2zM28 63h1v1h-1zM41 63h1v1h-1zM58 63h1v1h-1zM66 63h1v1h-1zM47 62h1v1h-1zM57 62h1v1h-1zM60 62h2v1h-2zM63 62h1v1h-1zM27 61h1v1h-1zM41 61h1v1h-1zM44 61h3v1h-3zM66 61h1v1h-1zM24 60h2v1h-2zM44 60h1v1h-1zM54 60h2v1h-2zM66 60h1v1h-1zM20 59h1v1h-1zM40 59h1v1h-1zM42 59h1v1h-1zM44 59h1v1h-1zM46 59h2v1h-2zM52 59h1v1h-1zM55 59h1v1h-1zM62 59h2v1h-2zM28 58h1v1h-1zM34 58h1v1h-1zM41 58h1v1h-1zM46 58h1v1h-1zM59 58h1v1h-1zM62 58h2v1h-2zM43 57h1v1h-1zM47 57h1v1h-1zM54 57h3v1h-3zM48 56h2v1h-2zM56 56h1v1h-1zM59 56h2v1h-2zM66 56h1v1h-1zM26 55h1v1h-1zM44 55h1v1h-1zM46 55h3v1h-3zM55 55h1v1h-1zM57 55h1v1h-1zM64 55h1v1h-1zM43 54h2v1h-2zM48 54h1v1h-1zM50 54h2v1h-2zM41 53h1v1h-1zM48 53h1v1h-1zM58 53h1v1h-1zM63 53h2v1h-2zM38 52h1v1h-1zM40 52h3v1h-3zM50 52h1v1h-1zM54 52h1v1h-1zM59 52h1v1h-1zM26 51h1v1h-1zM29 51h1v1h-1zM42 51h1v1h-1zM44 51h1v1h-1zM46 51h1v1h-1zM50 51h1v1h-1zM53 51h3v1h-3zM57 51h1v1h-1zM60 51h1v1h-1zM23 50h3v1h-3zM55 50h1v1h-1zM59 50h1v1h-1zM61 50h1v1h-1zM63 50h1v1h-1zM53 49h1v1h-1zM63 49h1v1h-1zM66 49h1v1h-1zM27 48h1v1h-1zM54 48h1v1h-1zM63 48h1v1h-1zM45 47h1v1h-1zM50 47h1v1h-1zM52 47h1v1h-1zM55 47h1v1h-1zM45 46h3v1h-3zM54 46h1v1h-1zM58 46h4v1h-4zM29 45h1v1h-1zM40 45h2v1h-2zM50 45h4v1h-4zM55 45h1v1h-1zM58 45h2v1h-2zM49 44h2v1h-2zM55 44h2v1h-2zM59 44h1v1h-1zM62 44h2v1h-2zM28 43h1v1h-1zM49 43h1v1h-1zM53 43h1v1h-1zM47 42h2v1h-2zM51 42h1v1h-1zM56 42h1v1h-1zM65 42h1v1h-1zM41 41h1v1h-1zM44 41h2v1h-2zM48 41h1v1h-1zM62 41h2v1h-2zM28 40h1v1h-1zM41 40h1v1h-1zM43 40h2v1h-2zM48 40h1v1h-1zM54 40h1v1h-1zM58 40h3v1h-3zM64 40h1v1h-1zM28 39h1v1h-1zM34 39h1v1h-1zM36 39h1v1h-1zM47 39h1v1h-1zM52 39h1v1h-1zM63 39h2v1h-2zM27 38h1v1h-1zM51 38h1v1h-1zM57 38h1v1h-1zM59 38h1v1h-1zM29 37h1v1h-1zM49 37h1v1h-1zM58 37h1v1h-1zM61 37h1v1h-1zM63 37h1v1h-1zM43 36h2v1h-2zM29 35h1v1h-1zM45 35h3v1h-3zM51 35h2v1h-2zM61 35h1v1h-1zM66 35h1v1h-1zM28 34h2v1h-2zM50 34h2v1h-2zM54 34h1v1h-1zM56 34h1v1h-1zM65 34h1v1h-1zM25 33h1v1h-1zM42 33h2v1h-2zM57 33h2v1h-2zM26 32h1v1h-1zM28 32h1v1h-1zM46 32h1v1h-1zM50 32h1v1h-1zM59 32h2v1h-2zM40 31h1v1h-1zM47 31h1v1h-1zM50 31h3v1h-3zM56 31h1v1h-1zM44 30h1v1h-1zM57 30h1v1h-1zM65 30h1v1h-1zM35 29h1v1h-1zM41 29h1v1h-1zM53 29h1v1h-1zM59 29h1v1h-1zM61 29h1v1h-1zM29 28h1v1h-1zM44 28h1v1h-1zM58 28h1v1h-1zM62 28h2v1h-2zM55 27h2v1h-2zM66 27h1v1h-1zM42 26h5v1h-5zM49 26h4v1h-4zM24 25h4v1h-4zM45 25h1v1h-1zM48 25h1v1h-1zM65 25h2v1h-2zM40 24h1v1h-1zM45 24h2v1h-2zM49 24h1v1h-1zM51 24h1v1h-1zM41 23h1v1h-1zM43 23h1v1h-1zM56 23h1v1h-1zM59 23h1v1h-1zM61 23h2v1h-2zM66 23h1v1h-1zM40 22h1v1h-1zM44 22h3v1h-3zM48 22h1v1h-1zM50 22h1v1h-1zM26 21h1v1h-1zM28 21h1v1h-1zM51 21h1v1h-1zM60 21h1v1h-1zM63 21h2v1h-2zM26 20h1v1h-1zM53 20h2v1h-2zM61 20h1v1h-1zM66 20h1v1h-1zM41 19h1v1h-1zM54 19h1v1h-1zM59 19h2v1h-2zM64 19h1v1h-1zM26 18h2v1h-2zM48 18h1v1h-1zM55 18h1v1h-1zM59 18h2v1h-2zM63 18h3v1h-3zM24 17h2v1h-2zM29 17h1v1h-1zM45 17h1v1h-1zM47 17h1v1h-1zM58 17h4v1h-4zM64 17h1v1h-1zM25 16h1v1h-1zM45 16h1v1h-1zM51 16h1v1h-1zM56 16h2v1h-2zM60 16h1v1h-1zM63 16h1v1h-1zM65 16h2v1h-2zM35 15h1v1h-1zM46 15h2v1h-2zM55 15h3v1h-3zM61 15h1v1h-1zM63 15h1v1h-1zM66 15h1v1h-1zM27 14h1v1h-1zM44 14h1v1h-1zM47 14h2v1h-2zM57 14h1v1h-1zM59 14h1v1h-1zM65 14h1v1h-1zM28 13h1v1h-1zM35 13h1v1h-1zM50 13h1v1h-1zM56 13h4v1h-4zM64 13h2v1h-2zM28 12h1v1h-1zM50 12h2v1h-2zM44 11h1v1h-1zM50 11h1v1h-1zM63 11h2v1h-2zM38 10h1v1h-1zM41 10h1v1h-1zM43 10h2v1h-2zM53 10h1v1h-1zM57 10h1v1h-1zM49 9h1v1h-1zM51 9h1v1h-1zM53 9h1v1h-1zM59 9h1v1h-1zM61 9h1v1h-1zM63 8h1v1h-1zM40 7h1v1h-1zM42 7h1v1h-1zM44 7h1v1h-1zM51 7h1v1h-1zM62 7h1v1h-1zM42 6h1v1h-1zM62 6h1v1h-1zM41 5h3v1h-3zM46 5h1v1h-1zM59 5h1v1h-1zM64 5h2v1h-2zM41 4h1v1h-1zM43 4h1v1h-1zM46 4h3v1h-3zM56 4h1v1h-1zM64 4h2v1h-2zM51 3h3v1h-3zM58 3h2v1h-2zM43 2h2v1h-2zM46 2h2v1h-2zM54 2h2v1h-2zM57 2h1v1h-1zM60 2h2v1h-2zM29 1h1v1h-1zM41 1h1v1h-1zM45 1h4v1h-4zM51 1h1v1h-1zM60 1h2v1h-2zM63 1h2v1h-2zM38 0h1v1h-1zM40 0h1v1h-1zM52 0h2v1h-2zM58 0h1v1h-1zM63 0h2v1h-2z"/>
<path fill="#0d57a1" d="M30 99h1v1h-1zM50 99h1v1h-1zM30 98h1v1h-1zM30 97h2v1h-2zM37 97h1v1h-1zM47 97h1v1h-1zM40 96h1v1h-1zM49 95h1v1h-1zM63 95h2v1h-2zM40 94h1v1h-1zM30 93h1v1h-1zM33 93h1v1h-1zM60 93h1v1h-1zM30 92h1v1h-1zM39 91h2v1h-2zM48 91h1v1h-1zM39 90h1v1h-1zM30 89h1v1h-1zM38 89h1v1h-1zM39 88h1v1h-1zM61 88h1v1h-1zM65 88h1v1h-1zM46 86h1v1h-1zM35 84h3v1h-3zM38 83h1v1h-1zM43 83h1v1h-1zM29 82h1v1h-1zM38 82h1v1h-1zM29 81h1v1h-1zM38 79h1v1h-1zM42 79h2v1h-2zM47 79h2v1h-2zM39 78h1v1h-1zM46 78h1v1h-1zM29 77h1v1h-1zM40 77h1v1h-1zM65 77h1v1h-1zM30 76h1v1h-1zM62 76h1v1h-1zM52 75h1v1h-1zM30 74h1v1h-1zM39 74h1v1h-1zM44 74h2v1h-2zM39 73h1v1h-1zM44 72h1v1h-1zM40 71h1v1h-1zM48 70h1v1h-1zM35 69h2v1h-2zM47 68h2v1h-2zM55 68h1v1h-1zM37 66h1v1h-1zM62 65h1v1h-1zM37 64h1v1h-1zM48 64h1v1h-1zM38 61h1v1h-1zM49 61h1v1h-1zM41 60h1v1h-1zM48 60h2v1h-2zM35 59h3v1h-3zM40 57h1v1h-1zM64 56h1v1h-1zM40 54h1v1h-1zM42 54h1v1h-1zM38 53h1v1h-1zM56 53h1v1h-1zM30 52h1v1h-1zM63 52h1v1h-1zM41 51h1v1h-1zM31 50h1v1h-1zM42 50h1v1h-1zM53 50h1v1h-1zM44 49h1v1h-1zM42 48h1v1h-1zM58 48h1v1h-1zM30 47h1v1h-1zM43 47h1v1h-1zM41 46h3v1h-3zM31 45h1v1h-1zM38 44h1v1h-1zM29 43h1v1h-1zM38 43h1v1h-1zM41 43h1v1h-1zM59 42h1v1h-1zM39 41h1v1h-1zM39 40h1v1h-1zM30 39h1v1h-1zM30 38h1v1h-1zM38 38h1v1h-1zM45 38h1v1h-1zM47 38h2v1h-2zM53 38h1v1h-1zM38 37h1v1h-1zM44 37h1v1h-1zM55 37h1v1h-1zM37 36h1v1h-1zM35 35h2v1h-2zM30 34h1v1h-1zM40 34h1v1h-1zM39 33h1v1h-1zM48 33h1v1h-1zM40 32h2v1h-2zM38 31h1v1h-1zM29 30h1v1h-1zM38 30h1v1h-1zM47 30h1v1h-1zM30 28h1v1h-1zM37 28h1v1h-1zM42 28h1v1h-1zM48 28h1v1h-1zM38 27h1v1h-1zM29 26h1v1h-1zM39 26h1v1h-1zM38 25h1v1h-1zM50 25h1v1h-1zM53 25h2v1h-2zM39 22h1v1h-1zM40 21h1v1h-1zM32 20h2v1h-2zM39 20h1v1h-1zM43 20h1v1h-1zM30 19h1v1h-1zM37 19h1v1h-1zM40 18h1v1h-1zM35 17h2v1h-2zM39 17h1v1h-1zM52 17h1v1h-1zM34 15h1v1h-1zM38 14h1v1h-1zM36 12h1v1h-1zM30 11h1v1h-1zM35 11h1v1h-1zM52 10h1v1h-1zM29 9h1v1h-1zM35 7h2v1h-2zM56 7h1v1h-1zM33 4h2v1h-2zM38 4h1v1h-1zM30 3h1v1h-1zM29 2h1v1h-1zM35 2h3v1h-3zM51 2h1v1h-1zM30 0h1v1h-1zM43 0h2v1h-2z"/>
<path fill="#08468c" d="M34 99h2v1h-2zM42 99h2v1h-2zM57 99h1v1h-1zM61 99h1v1h-1zM29 98h1v1h-1zM39 98h1v1h-1zM41 98h1v1h-1zM52 98h1v1h-1zM43 97h1v1h-1zM45 97h1v1h-1zM42 95h2v1h-2zM48 95h1v1h-1zM60 95h1v1h-1zM62 95h1v1h-1zM65 95h1v1h-1zM27 94h1v1h-1zM42 94h1v1h-1zM44 94h1v1h-1zM46 94h1v1h-1zM57 94h1v1h-1zM29 93h1v1h-1zM38 93h1v1h-1zM43 93h1v1h-1zM37 92h1v1h-1zM39 92h1v1h-1zM45 91h1v1h-1zM57 91h1v1h-1zM65 91h1v1h-1zM43 90h1v1h-1zM46 90h1v1h-1zM53 90h1v1h-1zM63 90h1v1h-1zM28 89h2v1h-2zM47 89h2v1h-2zM29 88h1v1h-1zM47 88h3v1h-3zM28 87h1v1h-1zM47 87h1v1h-1zM44 86h1v1h-1zM54 86h3v1h-3zM40 85h1v1h-1zM45 85h2v1h-2zM62 85h1v1h-1zM66 85h1v1h-1zM47 84h1v1h-1zM54 84h1v1h-1zM60 84h1v1h-1zM64 84h1v1h-1zM46 83h2v1h-2zM59 83h1v1h-1zM27 82h2v1h-2zM40 82h1v1h-1zM42 82h1v1h-1zM47 82h2v1h-2zM54 82h2v1h-2zM58 82h1v1h-1zM66 82h1v1h-1zM40 81h1v1h-1zM54 81h1v1h-1zM57 81h1v1h-1zM60 81h1v1h-1zM40 80h2v1h-2zM46 80h2v1h-2zM28 79h1v1h-1zM55 79h1v1h-1zM57 79h1v1h-1zM64 79h1v1h-1zM28 78h1v1h-1zM48 78h1v1h-1zM50 78h2v1h-2zM27 77h1v1h-1zM47 77h2v1h-2zM52 77h2v1h-2zM60 77h1v1h-1zM40 76h1v1h-1zM57 76h1v1h-1zM60 76h1v1h-1zM50 75h1v1h-1zM63 75h1v1h-1zM41 74h1v1h-1zM50 74h1v1h-1zM52 74h1v1h-1zM63 74h1v1h-1zM66 74h1v1h-1zM43 73h1v1h-1zM58 73h1v1h-1zM58 72h1v1h-1zM35 71h2v1h-2zM38 71h1v1h-1zM54 71h1v1h-1zM60 71h1v1h-1zM44 70h1v1h-1zM46 70h1v1h-1zM55 70h1v1h-1zM29 69h1v1h-1zM44 69h2v1h-2zM64 69h2v1h-2zM46 68h1v1h-1zM52 68h1v1h-1zM56 68h1v1h-1zM50 67h1v1h-1zM57 67h1v1h-1zM59 67h1v1h-1zM63 67h2v1h-2zM38 66h1v1h-1zM42 66h2v1h-2zM51 66h1v1h-1zM61 66h1v1h-1zM64 66h1v1h-1zM29 65h1v1h-1zM44 65h1v1h-1zM53 65h1v1h-1zM58 65h1v1h-1zM66 65h1v1h-1zM40 64h2v1h-2zM43 64h2v1h-2zM50 64h1v1h-1zM47 63h2v1h-2zM55 63h3v1h-3zM29 62h1v1h-1zM45 62h1v1h-1zM54 62h1v1h-1zM62 62h1v1h-1zM40 61h1v1h-1zM42 61h2v1h-2zM60 61h1v1h-1zM58 60h1v1h-1zM62 60h1v1h-1zM41 59h1v1h-1zM48 59h1v1h-1zM38 58h1v1h-1zM45 58h1v1h-1zM48 58h1v1h-1zM56 58h1v1h-1zM44 57h1v1h-1zM46 57h1v1h-1zM45 56h1v1h-1zM58 56h1v1h-1zM61 56h1v1h-1zM40 55h1v1h-1zM49 55h1v1h-1zM51 55h1v1h-1zM29 54h1v1h-1zM43 53h1v1h-1zM29 52h1v1h-1zM45 52h1v1h-1zM47 52h1v1h-1zM51 52h1v1h-1zM64 52h1v1h-1zM45 51h1v1h-1zM52 51h1v1h-1zM40 50h1v1h-1zM45 50h2v1h-2zM49 50h1v1h-1zM60 50h1v1h-1zM64 50h1v1h-1zM41 49h2v1h-2zM46 49h1v1h-1zM50 49h1v1h-1zM54 49h1v1h-1zM59 49h1v1h-1zM61 49h1v1h-1zM65 49h1v1h-1zM29 48h1v1h-1zM44 48h2v1h-2zM52 48h2v1h-2zM62 48h1v1h-1zM40 47h1v1h-1zM51 47h1v1h-1zM56 47h4v1h-4zM48 46h2v1h-2zM65 46h1v1h-1zM44 45h2v1h-2zM47 44h2v1h-2zM64 44h1v1h-1zM43 43h1v1h-1zM52 43h1v1h-1zM59 43h1v1h-1zM64 43h1v1h-1zM24 42h2v1h-2zM40 42h1v1h-1zM46 42h1v1h-1zM52 42h1v1h-1zM54 42h1v1h-1zM60 42h1v1h-1zM63 42h1v1h-1zM43 41h1v1h-1zM50 41h1v1h-1zM52 41h1v1h-1zM40 40h1v1h-1zM49 40h2v1h-2zM57 40h1v1h-1zM61 40h3v1h-3zM35 39h1v1h-1zM38 39h1v1h-1zM45 39h1v1h-1zM26 38h1v1h-1zM28 38h1v1h-1zM42 38h1v1h-1zM50 38h1v1h-1zM52 38h1v1h-1zM62 38h1v1h-1zM66 38h1v1h-1zM50 37h2v1h-2zM59 37h2v1h-2zM48 35h1v1h-1zM50 35h1v1h-1zM38 34h1v1h-1zM43 34h2v1h-2zM49 34h1v1h-1zM55 34h1v1h-1zM66 34h1v1h-1zM27 33h1v1h-1zM44 33h3v1h-3zM54 33h1v1h-1zM56 33h1v1h-1zM27 32h1v1h-1zM51 32h2v1h-2zM45 31h2v1h-2zM48 31h1v1h-1zM57 31h2v1h-2zM45 30h1v1h-1zM48 30h1v1h-1zM52 30h3v1h-3zM29 29h1v1h-1zM37 29h2v1h-2zM42 29h1v1h-1zM44 29h1v1h-1zM46 29h1v1h-1zM60 29h1v1h-1zM62 29h1v1h-1zM45 28h1v1h-1zM50 28h1v1h-1zM61 28h1v1h-1zM64 28h1v1h-1zM47 27h1v1h-1zM42 25h1v1h-1zM49 25h1v1h-1zM56 25h3v1h-3zM26 24h1v1h-1zM62 24h1v1h-1zM29 23h1v1h-1zM40 23h1v1h-1zM49 23h1v1h-1zM52 23h1v1h-1zM55 23h1v1h-1zM63 23h1v1h-1zM29 22h1v1h-1zM47 22h1v1h-1zM60 22h2v1h-2zM27 21h1v1h-1zM45 21h1v1h-1zM53 21h1v1h-1zM27 20h2v1h-2zM45 20h1v1h-1zM47 20h1v1h-1zM52 20h1v1h-1zM57 20h1v1h-1zM62 20h1v1h-1zM64 20h2v1h-2zM28 19h1v1h-1zM40 19h1v1h-1zM29 18h1v1h-1zM47 18h1v1h-1zM61 18h2v1h-2zM40 17h2v1h-2zM43 17h2v1h-2zM54 17h2v1h-2zM26 16h1v1h-1zM42 16h1v1h-1zM47 16h1v1h-1zM50 16h1v1h-1zM62 16h1v1h-1zM64 16h1v1h-1zM45 15h1v1h-1zM48 15h1v1h-1zM50 15h1v1h-1zM60 15h1v1h-1zM62 15h1v1h-1zM49 14h2v1h-2zM53 14h1v1h-1zM56 14h1v1h-1zM60 14h1v1h-1zM62 14h1v1h-1zM36 13h1v1h-1zM38 13h1v1h-1zM42 13h2v1h-2zM60 13h1v1h-1zM63 13h1v1h-1zM43 12h1v1h-1zM46 12h2v1h-2zM52 12h2v1h-2zM66 12h1v1h-1zM29 11h1v1h-1zM40 11h2v1h-2zM45 11h1v1h-1zM47 11h3v1h-3zM65 11h1v1h-1zM28 10h1v1h-1zM39 10h2v1h-2zM42 10h1v1h-1zM47 10h1v1h-1zM58 10h2v1h-2zM42 9h4v1h-4zM48 9h1v1h-1zM65 9h1v1h-1zM41 8h1v1h-1zM60 8h2v1h-2zM65 8h1v1h-1zM28 7h2v1h-2zM41 7h1v1h-1zM52 7h2v1h-2zM58 7h1v1h-1zM60 7h1v1h-1zM28 6h2v1h-2zM40 6h2v1h-2zM49 6h1v1h-1zM60 6h1v1h-1zM29 5h1v1h-1zM40 5h1v1h-1zM47 5h1v1h-1zM49 5h1v1h-1zM45 4h1v1h-1zM54 4h1v1h-1zM40 2h1v1h-1zM42 2h1v1h-1zM49 2h1v1h-1zM56 2h1v1h-1zM40 1h1v1h-1zM49 1h2v1h-2zM58 1h1v1h-1zM28 0h1v1h-1zM37 0h1v1h-1zM39 0h1v1h-1zM41 0h1v1h-1zM45 0h1v1h-1zM50 0h1v1h-1z"/>
<path fill="#084f99" d="M37 99h1v1h-1zM45 98h2v1h-2zM39 96h1v1h-1zM40 95h1v1h-1zM44 95h2v1h-2zM41 94h1v1h-1zM45 94h1v1h-1zM36 93h2v1h-2zM58 93h1v1h-1zM29 91h1v1h-1zM43 91h1v1h-1zM46 91h1v1h-1zM58 91h1v1h-1zM64 91h1v1h-1zM40 90h1v1h-1zM45 90h1v1h-1zM65 90h1v1h-1zM39 89h1v1h-1zM66 88h1v1h-1zM29 87h1v1h-1zM45 87h1v1h-1zM29 86h1v1h-1zM45 86h1v1h-1zM59 86h2v1h-2zM62 86h1v1h-1zM39 84h1v1h-1zM65 84h1v1h-1zM44 83h1v1h-1zM61 83h2v1h-2zM39 82h1v1h-1zM41 82h1v1h-1zM52 82h1v1h-1zM39 79h1v1h-1zM56 79h1v1h-1zM45 77h1v1h-1zM49 77h1v1h-1zM64 77h1v1h-1zM66 77h1v1h-1zM56 76h1v1h-1zM61 76h1v1h-1zM63 76h1v1h-1zM41 75h1v1h-1zM43 75h1v1h-1zM53 75h1v1h-1zM55 75h3v1h-3zM40 74h1v1h-1zM46 74h1v1h-1zM53 74h1v1h-1zM64 74h1v1h-1zM47 73h1v1h-1zM47 72h1v1h-1zM29 71h1v1h-1zM37 71h1v1h-1zM41 71h2v1h-2zM45 71h1v1h-1zM39 70h1v1h-1zM41 70h1v1h-1zM65 70h1v1h-1zM42 69h2v1h-2zM48 69h2v1h-2zM29 68h1v1h-1zM40 68h1v1h-1zM49 68h2v1h-2zM65 68h2v1h-2zM43 67h1v1h-1zM48 67h1v1h-1zM51 67h3v1h-3zM58 67h1v1h-1zM29 66h1v1h-1zM48 66h1v1h-1zM50 66h1v1h-1zM38 65h2v1h-2zM46 65h1v1h-1zM50 65h1v1h-1zM38 64h2v1h-2zM46 64h1v1h-1zM63 64h1v1h-1zM29 63h1v1h-1zM40 62h1v1h-1zM42 62h1v1h-1zM51 62h2v1h-2zM47 61h1v1h-1zM50 60h1v1h-1zM53 60h1v1h-1zM54 59h1v1h-1zM29 58h1v1h-1zM40 58h1v1h-1zM39 57h1v1h-1zM29 56h1v1h-1zM44 56h1v1h-1zM63 56h1v1h-1zM65 56h1v1h-1zM46 54h2v1h-2zM28 53h1v1h-1zM39 53h2v1h-2zM47 53h1v1h-1zM43 52h1v1h-1zM39 51h1v1h-1zM58 51h1v1h-1zM65 51h1v1h-1zM36 50h1v1h-1zM39 50h1v1h-1zM41 50h1v1h-1zM44 50h1v1h-1zM47 50h1v1h-1zM54 50h1v1h-1zM43 49h1v1h-1zM45 49h1v1h-1zM62 49h1v1h-1zM46 48h1v1h-1zM51 48h1v1h-1zM59 48h3v1h-3zM65 48h2v1h-2zM37 47h1v1h-1zM42 47h1v1h-1zM44 47h1v1h-1zM29 46h1v1h-1zM38 45h2v1h-2zM29 44h1v1h-1zM58 44h1v1h-1zM66 44h1v1h-1zM39 43h1v1h-1zM47 43h1v1h-1zM29 42h1v1h-1zM39 42h1v1h-1zM44 42h2v1h-2zM53 42h1v1h-1zM46 41h1v1h-1zM51 41h1v1h-1zM53 41h1v1h-1zM37 39h1v1h-1zM29 38h1v1h-1zM40 38h1v1h-1zM54 38h1v1h-1zM66 37h1v1h-1zM39 36h1v1h-1zM31 35h1v1h-1zM41 35h1v1h-1zM29 33h1v1h-1zM47 33h1v1h-1zM49 33h1v1h-1zM44 32h1v1h-1zM39 31h1v1h-1zM41 31h1v1h-1zM64 30h1v1h-1zM30 29h1v1h-1zM38 28h2v1h-2zM41 28h1v1h-1zM47 28h1v1h-1zM49 28h1v1h-1zM51 28h1v1h-1zM39 27h1v1h-1zM41 27h1v1h-1zM41 25h1v1h-1zM55 25h1v1h-1zM27 24h1v1h-1zM48 23h1v1h-1zM53 23h1v1h-1zM64 23h1v1h-1zM41 21h1v1h-1zM43 21h1v1h-1zM50 21h1v1h-1zM54 21h1v1h-1zM56 21h1v1h-1zM58 21h2v1h-2zM46 20h1v1h-1zM29 19h1v1h-1zM56 19h1v1h-1zM44 18h1v1h-1zM58 18h1v1h-1zM56 17h1v1h-1zM62 17h1v1h-1zM39 16h1v1h-1zM43 16h2v1h-2zM49 16h1v1h-1zM38 15h2v1h-2zM41 15h2v1h-2zM49 15h1v1h-1zM59 15h1v1h-1zM51 14h1v1h-1zM37 12h1v1h-1zM39 12h1v1h-1zM41 9h1v1h-1zM60 9h1v1h-1zM39 8h1v1h-1zM39 7h1v1h-1zM54 7h1v1h-1zM57 7h1v1h-1zM61 6h1v1h-1zM37 5h1v1h-1zM48 5h1v1h-1zM29 4h1v1h-1zM39 4h1v1h-1zM49 0h1v1h-1z"/>
<path fill="#084a92" d="M38 99h2v1h-2zM41 99h1v1h-1zM44 99h2v1h-2zM52 99h2v1h-2zM62 99h4v1h-4zM35 98h3v1h-3zM42 98h1v1h-1zM44 98h1v1h-1zM51 98h1v1h-1zM65 98h1v1h-1zM40 97h1v1h-1zM48 97h1v1h-1zM29 96h1v1h-1zM45 96h2v1h-2zM59 96h2v1h-2zM29 95h1v1h-1zM41 95h1v1h-1zM29 94h1v1h-1zM53 94h1v1h-1zM35 93h1v1h-1zM39 93h1v1h-1zM46 93h3v1h-3zM35 92h2v1h-2zM50 92h2v1h-2zM44 91h1v1h-1zM51 91h2v1h-2zM59 91h1v1h-1zM62 91h1v1h-1zM66 91h1v1h-1zM41 90h2v1h-2zM51 90h2v1h-2zM64 90h1v1h-1zM50 87h2v1h-2zM42 86h1v1h-1zM51 86h1v1h-1zM61 86h1v1h-1zM38 84h1v1h-1zM53 84h1v1h-1zM66 84h1v1h-1zM45 83h1v1h-1zM60 83h1v1h-1zM43 82h1v1h-1zM49 82h1v1h-1zM56 82h2v1h-2zM61 82h1v1h-1zM35 81h1v1h-1zM37 81h3v1h-3zM30 80h1v1h-1zM48 80h2v1h-2zM46 79h1v1h-1zM49 79h1v1h-1zM59 79h1v1h-1zM43 78h3v1h-3zM46 77h1v1h-1zM51 77h1v1h-1zM63 77h1v1h-1zM35 76h5v1h-5zM51 76h2v1h-2zM38 75h3v1h-3zM54 75h1v1h-1zM58 75h1v1h-1zM64 75h1v1h-1zM42 74h1v1h-1zM47 74h1v1h-1zM51 74h1v1h-1zM60 74h1v1h-1zM65 74h1v1h-1zM29 73h1v1h-1zM46 73h1v1h-1zM56 73h1v1h-1zM66 72h1v1h-1zM32 71h1v1h-1zM39 71h1v1h-1zM49 71h1v1h-1zM38 70h1v1h-1zM45 70h1v1h-1zM51 70h1v1h-1zM56 70h1v1h-1zM40 69h2v1h-2zM46 69h1v1h-1zM50 69h3v1h-3zM60 69h1v1h-1zM41 68h1v1h-1zM51 68h1v1h-1zM53 68h1v1h-1zM63 68h2v1h-2zM28 67h1v1h-1zM39 66h3v1h-3zM47 66h1v1h-1zM65 66h1v1h-1zM49 65h1v1h-1zM61 65h1v1h-1zM63 65h1v1h-1zM29 64h3v1h-3zM42 64h1v1h-1zM47 64h1v1h-1zM62 64h1v1h-1zM64 64h1v1h-1zM38 63h2v1h-2zM42 63h1v1h-1zM46 63h1v1h-1zM49 63h1v1h-1zM51 63h1v1h-1zM54 63h1v1h-1zM43 62h2v1h-2zM48 62h1v1h-1zM65 62h1v1h-1zM29 61h1v1h-1zM54 61h1v1h-1zM58 61h2v1h-2zM61 61h2v1h-2zM29 60h1v1h-1zM43 60h1v1h-1zM47 60h1v1h-1zM59 60h3v1h-3zM29 59h1v1h-1zM45 59h1v1h-1zM53 59h1v1h-1zM30 58h3v1h-3zM37 58h1v1h-1zM39 58h1v1h-1zM49 58h1v1h-1zM55 58h1v1h-1zM29 57h1v1h-1zM42 57h1v1h-1zM45 57h1v1h-1zM57 56h1v1h-1zM62 56h1v1h-1zM28 55h1v1h-1zM43 55h1v1h-1zM56 55h1v1h-1zM45 54h1v1h-1zM55 53h1v1h-1zM57 53h1v1h-1zM37 52h1v1h-1zM39 52h1v1h-1zM46 52h1v1h-1zM52 52h2v1h-2zM62 52h1v1h-1zM51 51h1v1h-1zM59 51h1v1h-1zM30 50h1v1h-1zM52 50h1v1h-1zM29 49h1v1h-1zM40 49h1v1h-1zM47 49h1v1h-1zM55 49h4v1h-4zM48 48h1v1h-1zM55 48h1v1h-1zM64 48h1v1h-1zM29 47h1v1h-1zM35 47h2v1h-2zM38 47h2v1h-2zM41 47h1v1h-1zM60 47h2v1h-2zM44 46h1v1h-1zM30 45h1v1h-1zM42 45h1v1h-1zM46 45h1v1h-1zM54 45h1v1h-1zM42 44h1v1h-1zM57 44h1v1h-1zM65 44h1v1h-1zM42 43h1v1h-1zM44 43h2v1h-2zM48 43h1v1h-1zM56 43h1v1h-1zM62 43h2v1h-2zM65 43h1v1h-1zM64 42h1v1h-1zM42 41h1v1h-1zM55 41h1v1h-1zM56 40h1v1h-1zM31 39h1v1h-1zM39 39h1v1h-1zM46 39h1v1h-1zM53 39h2v1h-2zM35 38h2v1h-2zM41 38h1v1h-1zM43 38h1v1h-1zM63 38h1v1h-1zM65 38h1v1h-1zM30 37h1v1h-1zM45 37h1v1h-1zM54 37h1v1h-1zM57 37h1v1h-1zM64 37h1v1h-1zM28 36h1v1h-1zM30 35h1v1h-1zM38 35h2v1h-2zM44 35h1v1h-1zM49 35h1v1h-1zM39 34h1v1h-1zM26 33h1v1h-1zM40 33h2v1h-2zM53 33h1v1h-1zM55 33h1v1h-1zM45 32h1v1h-1zM28 31h1v1h-1zM49 31h1v1h-1zM28 30h1v1h-1zM40 30h1v1h-1zM55 30h2v1h-2zM63 30h1v1h-1zM32 29h1v1h-1zM39 29h1v1h-1zM43 29h1v1h-1zM45 29h1v1h-1zM54 29h1v1h-1zM27 28h1v1h-1zM40 28h1v1h-1zM43 28h1v1h-1zM46 28h1v1h-1zM55 28h1v1h-1zM59 28h2v1h-2zM65 28h2v1h-2zM30 27h1v1h-1zM46 27h1v1h-1zM41 26h1v1h-1zM28 25h1v1h-1zM43 25h2v1h-2zM41 24h1v1h-1zM44 24h1v1h-1zM50 24h1v1h-1zM63 24h2v1h-2zM66 24h1v1h-1zM38 23h2v1h-2zM46 23h2v1h-2zM54 23h1v1h-1zM60 23h1v1h-1zM65 23h1v1h-1zM51 22h1v1h-1zM44 21h1v1h-1zM46 21h1v1h-1zM55 21h1v1h-1zM29 20h2v1h-2zM44 20h1v1h-1zM55 20h1v1h-1zM63 20h1v1h-1zM55 19h1v1h-1zM58 19h1v1h-1zM45 18h2v1h-2zM42 17h1v1h-1zM57 17h1v1h-1zM28 16h1v1h-1zM38 16h1v1h-1zM61 16h1v1h-1zM29 15h1v1h-1zM36 15h1v1h-1zM58 15h1v1h-1zM40 14h4v1h-4zM61 14h1v1h-1zM29 13h1v1h-1zM31 13h2v1h-2zM39 13h1v1h-1zM61 13h2v1h-2zM38 12h1v1h-1zM42 12h1v1h-1zM43 11h1v1h-1zM46 11h1v1h-1zM60 11h1v1h-1zM62 11h1v1h-1zM35 10h2v1h-2zM48 10h1v1h-1zM52 9h1v1h-1zM64 9h1v1h-1zM29 8h1v1h-1zM40 8h1v1h-1zM64 8h1v1h-1zM61 7h1v1h-1zM51 6h1v1h-1zM35 5h2v1h-2zM38 5h2v1h-2zM35 4h2v1h-2zM44 4h1v1h-1zM55 4h1v1h-1zM28 2h1v1h-1zM38 2h2v1h-2zM41 2h1v1h-1zM48 2h1v1h-1zM50 2h1v1h-1zM52 2h1v1h-1zM57 1h1v1h-1zM29 0h1v1h-1zM35 0h2v1h-2zM42 0h1v1h-1zM48 0h1v1h-1z"/>
<path fill="#105ca4" d="M40 99h1v1h-1zM51 99h1v1h-1zM41 97h1v1h-1zM39 94h1v1h-1zM41 91h1v1h-1zM63 91h1v1h-1zM29 85h1v1h-1zM29 84h1v1h-1zM29 83h1v1h-1zM51 83h1v1h-1zM44 82h1v1h-1zM53 82h1v1h-1zM38 78h1v1h-1zM42 78h1v1h-1zM47 78h1v1h-1zM39 77h1v1h-1zM61 77h1v1h-1zM42 75h1v1h-1zM38 72h1v1h-1zM46 72h1v1h-1zM48 71h1v1h-1zM66 70h1v1h-1zM38 67h1v1h-1zM47 65h1v1h-1zM35 64h2v1h-2zM38 62h1v1h-1zM41 62h1v1h-1zM50 61h1v1h-1zM52 60h1v1h-1zM39 56h1v1h-1zM39 55h1v1h-1zM41 55h1v1h-1zM38 54h1v1h-1zM44 53h1v1h-1zM38 51h1v1h-1zM40 51h1v1h-1zM66 51h1v1h-1zM38 50h1v1h-1zM38 49h1v1h-1zM48 49h2v1h-2zM39 48h3v1h-3zM50 48h1v1h-1zM30 46h1v1h-1zM39 46h1v1h-1zM37 45h1v1h-1zM41 44h1v1h-1zM57 43h1v1h-1zM66 43h1v1h-1zM42 42h1v1h-1zM57 42h1v1h-1zM37 38h1v1h-1zM46 38h1v1h-1zM60 38h1v1h-1zM37 37h1v1h-1zM40 37h1v1h-1zM37 35h1v1h-1zM47 34h2v1h-2zM39 32h1v1h-1zM43 32h1v1h-1zM37 30h1v1h-1zM45 27h1v1h-1zM40 25h1v1h-1zM52 25h1v1h-1zM30 23h1v1h-1zM37 23h1v1h-1zM47 21h1v1h-1zM38 20h1v1h-1zM41 18h1v1h-1zM30 17h1v1h-1zM37 17h1v1h-1zM51 17h1v1h-1zM43 15h1v1h-1zM38 11h1v1h-1zM30 8h1v1h-1zM55 7h1v1h-1zM38 6h1v1h-1zM39 3h1v1h-1z"/>
<path fill="#2a7aba" d="M31 98h1v1h-1zM34 97h3v1h-3zM37 90h1v1h-1zM37 87h1v1h-1zM38 80h1v1h-1zM37 79h1v1h-1zM30 77h1v1h-1zM31 74h1v1h-1zM30 70h1v1h-1zM37 68h1v1h-1zM33 64h1v1h-1zM30 54h1v1h-1zM32 50h1v1h-1zM35 44h1v1h-1zM30 43h1v1h-1zM30 40h1v1h-1zM34 35h1v1h-1zM35 20h1v1h-1zM31 10h1v1h-1zM31 0h1v1h-1z"/>
<path fill="#94c4df" d="M32 98h1v1h-1zM34 96h1v1h-1zM34 81h1v1h-1zM34 76h1v1h-1zM32 73h2v1h-2zM32 65h1v1h-1zM34 47h1v1h-1zM32 38h1v1h-1zM32 0h1v1h-1z"/>
<path fill="#9bc8e0" d="M33 98h1v1h-1zM35 86h1v1h-1zM32 80h1v1h-1zM32 37h1v1h-1zM32 28h1v1h-1zM33 23h1v1h-1zM32 22h1v1h-1zM31 14h1v1h-1z"/>
<path fill="#3787c0" d="M34 98h1v1h-1zM37 94h1v1h-1zM30 84h1v1h-1zM36 82h1v1h-1zM37 80h1v1h-1zM36 73h1v1h-1zM35 72h1v1h-1zM32 64h1v1h-1zM30 61h1v1h-1zM31 60h1v1h-1zM37 48h1v1h-1zM35 27h1v1h-1zM32 18h1v1h-1zM32 4h1v1h-1z"/>
<path fill="#0a539e" d="M43 98h1v1h-1zM29 97h1v1h-1zM38 97h2v1h-2zM42 97h1v1h-1zM46 97h1v1h-1zM38 96h1v1h-1zM39 95h1v1h-1zM50 95h1v1h-1zM59 93h1v1h-1zM42 91h1v1h-1zM49 90h2v1h-2zM66 90h1v1h-1zM40 89h1v1h-1zM44 89h1v1h-1zM62 88h1v1h-1zM46 87h1v1h-1zM40 86h1v1h-1zM63 86h1v1h-1zM61 84h1v1h-1zM39 83h1v1h-1zM41 83h1v1h-1zM50 83h1v1h-1zM46 82h1v1h-1zM60 79h1v1h-1zM44 77h1v1h-1zM50 77h1v1h-1zM29 75h1v1h-1zM51 75h1v1h-1zM43 74h1v1h-1zM58 74h1v1h-1zM57 73h1v1h-1zM39 72h1v1h-1zM46 71h1v1h-1zM63 71h1v1h-1zM40 70h1v1h-1zM50 70h1v1h-1zM30 69h1v1h-1zM37 69h3v1h-3zM47 69h1v1h-1zM39 68h1v1h-1zM54 68h1v1h-1zM39 67h1v1h-1zM41 67h1v1h-1zM49 67h1v1h-1zM49 66h1v1h-1zM40 65h4v1h-4zM48 65h1v1h-1zM52 65h1v1h-1zM45 64h1v1h-1zM49 64h1v1h-1zM50 63h1v1h-1zM39 62h1v1h-1zM49 62h2v1h-2zM53 62h1v1h-1zM28 61h1v1h-1zM39 61h1v1h-1zM48 61h1v1h-1zM40 60h1v1h-1zM42 60h1v1h-1zM51 60h1v1h-1zM38 59h2v1h-2zM33 58h1v1h-1zM38 57h1v1h-1zM41 56h1v1h-1zM42 55h1v1h-1zM50 55h1v1h-1zM39 54h1v1h-1zM29 53h1v1h-1zM44 52h1v1h-1zM35 50h1v1h-1zM37 50h1v1h-1zM43 50h1v1h-1zM48 50h1v1h-1zM39 49h1v1h-1zM43 48h1v1h-1zM47 48h1v1h-1zM49 48h1v1h-1zM43 45h1v1h-1zM39 44h2v1h-2zM46 43h1v1h-1zM38 42h1v1h-1zM41 42h1v1h-1zM43 42h1v1h-1zM28 41h2v1h-2zM47 41h1v1h-1zM54 41h1v1h-1zM55 40h1v1h-1zM29 39h1v1h-1zM39 38h1v1h-1zM44 38h1v1h-1zM49 38h1v1h-1zM61 38h1v1h-1zM64 38h1v1h-1zM39 37h1v1h-1zM52 37h2v1h-2zM65 37h1v1h-1zM38 36h1v1h-1zM40 35h1v1h-1zM42 35h2v1h-2zM45 34h2v1h-2zM50 33h1v1h-1zM64 33h1v1h-1zM66 33h1v1h-1zM29 32h1v1h-1zM29 31h1v1h-1zM44 31h1v1h-1zM39 30h1v1h-1zM46 30h1v1h-1zM54 28h1v1h-1zM40 27h1v1h-1zM44 27h1v1h-1zM28 26h1v1h-1zM40 26h1v1h-1zM39 25h1v1h-1zM30 24h1v1h-1zM39 24h1v1h-1zM65 24h1v1h-1zM44 23h1v1h-1zM52 22h2v1h-2zM29 21h1v1h-1zM42 21h1v1h-1zM57 21h1v1h-1zM40 20h3v1h-3zM56 20h1v1h-1zM38 19h2v1h-2zM57 19h1v1h-1zM30 18h1v1h-1zM39 18h1v1h-1zM56 18h1v1h-1zM48 17h1v1h-1zM53 17h1v1h-1zM63 17h1v1h-1zM29 16h1v1h-1zM41 16h1v1h-1zM48 16h1v1h-1zM37 15h1v1h-1zM40 15h1v1h-1zM44 15h1v1h-1zM39 14h1v1h-1zM52 14h1v1h-1zM37 13h1v1h-1zM41 12h1v1h-1zM36 11h1v1h-1zM39 11h1v1h-1zM42 11h1v1h-1zM37 10h1v1h-1zM51 10h1v1h-1zM38 8h1v1h-1zM37 7h2v1h-2zM39 6h1v1h-1zM50 6h1v1h-1zM37 4h1v1h-1zM40 4h1v1h-1zM29 3h1v1h-1z"/>
<path fill="#1764ab" d="M32 97h1v1h-1zM37 96h1v1h-1zM30 95h1v1h-1zM30 94h1v1h-1zM30 91h1v1h-1zM42 89h2v1h-2zM37 88h1v1h-1zM47 86h1v1h-1zM39 85h1v1h-1zM37 82h1v1h-1zM30 81h1v1h-1zM40 78h1v1h-1zM41 77h1v1h-1zM38 74h1v1h-1zM30 73h1v1h-1zM37 73h2v1h-2zM37 72h1v1h-1zM61 71h1v1h-1zM49 70h1v1h-1zM29 67h1v1h-1zM37 67h1v1h-1zM43 63h1v1h-1zM45 63h1v1h-1zM30 62h1v1h-1zM30 60h1v1h-1zM39 60h1v1h-1zM30 59h1v1h-1zM37 57h1v1h-1zM29 55h1v1h-1zM38 55h1v1h-1zM37 53h1v1h-1zM46 53h1v1h-1zM30 49h1v1h-1zM30 48h1v1h-1zM56 48h2v1h-2zM31 46h1v1h-1zM35 45h1v1h-1zM37 44h1v1h-1zM37 41h2v1h-2zM35 37h1v1h-1zM41 37h1v1h-1zM29 36h1v1h-1zM35 36h2v1h-2zM33 34h1v1h-1zM37 34h1v1h-1zM30 33h1v1h-1zM52 33h1v1h-1zM37 31h1v1h-1zM53 28h1v1h-1zM37 27h1v1h-1zM38 26h1v1h-1zM37 25h1v1h-1zM51 25h1v1h-1zM42 24h2v1h-2zM35 23h1v1h-1zM30 22h1v1h-1zM31 20h1v1h-1zM38 17h1v1h-1zM37 16h1v1h-1zM30 14h1v1h-1zM39 9h1v1h-1zM37 8h1v1h-1zM30 7h1v1h-1zM37 6h1v1h-1zM30 5h1v1h-1zM37 1h1v1h-1z"/>
<path fill="#4a98c9" d="M33 97h1v1h-1zM34 92h1v1h-1zM35 89h2v1h-2zM35 88h2v1h-2zM31 86h1v1h-1zM30 85h1v1h-1zM34 84h1v1h-1zM31 73h1v1h-1zM36 72h1v1h-1zM35 65h2v1h-2zM32 62h1v1h-1zM34 59h1v1h-1zM35 56h1v1h-1zM35 49h2v1h-2zM35 42h1v1h-1zM35 41h1v1h-1zM31 34h1v1h-1zM34 22h1v1h-1zM31 4h1v1h-1zM35 3h1v1h-1z"/>
<path fill="#1460a8" d="M30 96h1v1h-1zM38 95h1v1h-1zM42 93h1v1h-1zM38 91h1v1h-1zM41 89h1v1h-1zM39 87h1v1h-1zM39 86h1v1h-1zM41 86h1v1h-1zM50 86h1v1h-1zM39 80h1v1h-1zM29 79h1v1h-1zM43 77h1v1h-1zM62 77h1v1h-1zM59 74h1v1h-1zM30 71h2v1h-2zM43 71h2v1h-2zM47 71h1v1h-1zM29 70h1v1h-1zM30 68h1v1h-1zM38 68h1v1h-1zM42 67h1v1h-1zM30 66h1v1h-1zM51 65h1v1h-1zM30 63h1v1h-1zM66 62h1v1h-1zM33 59h1v1h-1zM41 57h1v1h-1zM40 56h1v1h-1zM30 51h1v1h-1zM40 46h1v1h-1zM40 43h1v1h-1zM58 43h1v1h-1zM30 42h1v1h-1zM37 42h1v1h-1zM58 42h1v1h-1zM29 40h1v1h-1zM38 40h1v1h-1zM36 37h1v1h-1zM56 37h1v1h-1zM42 34h1v1h-1zM37 33h2v1h-2zM42 32h1v1h-1zM38 24h1v1h-1zM36 23h1v1h-1zM45 23h1v1h-1zM30 21h1v1h-1zM39 21h1v1h-1zM49 21h1v1h-1zM37 18h2v1h-2zM42 18h2v1h-2zM30 16h1v1h-1zM40 16h1v1h-1zM30 13h1v1h-1zM35 12h1v1h-1zM40 12h1v1h-1zM37 11h1v1h-1zM61 11h1v1h-1zM40 9h1v1h-1zM30 6h1v1h-1zM30 4h1v1h-1zM39 1h1v1h-1z"/>
<path fill="#7fb9da" d="M31 96h1v1h-1zM31 90h1v1h-1zM36 83h1v1h-1zM36 74h1v1h-1zM31 72h1v1h-1zM35 68h1v1h-1zM31 63h1v1h-1zM36 60h1v1h-1zM32 27h1v1h-1zM31 24h1v1h-1z"/>
<path fill="#e3eef9" d="M32 96h1v1h-1zM34 89h1v1h-1zM32 85h1v1h-1zM34 83h1v1h-1zM33 77h1v1h-1zM32 67h1v1h-1zM33 63h1v1h-1zM34 54h1v1h-1zM33 21h1v1h-1zM34 14h1v1h-1zM34 12h1v1h-1zM33 0h1v1h-1z"/>
<path fill="#86bddc" d="M33 96h1v1h-1zM37 85h1v1h-1zM35 83h1v1h-1zM31 77h1v1h-1zM32 70h1v1h-1zM31 53h1v1h-1zM31 26h1v1h-1zM34 9h1v1h-1zM36 9h1v1h-1zM31 8h1v1h-1z"/>
<path fill="#4090c5" d="M35 96h1v1h-1zM32 82h1v1h-1zM33 60h1v1h-1zM37 56h1v1h-1zM33 53h1v1h-1zM35 53h1v1h-1zM33 50h1v1h-1zM36 41h1v1h-1zM35 30h1v1h-1zM30 25h1v1h-1zM31 19h1v1h-1zM37 14h1v1h-1z"/>
<path fill="#3b8bc3" d="M36 96h1v1h-1zM37 83h1v1h-1zM35 82h1v1h-1zM30 75h1v1h-1zM37 75h1v1h-1zM35 73h1v1h-1zM30 72h1v1h-1zM33 66h1v1h-1zM35 63h2v1h-2zM32 60h1v1h-1zM37 60h1v1h-1zM31 59h1v1h-1zM36 53h1v1h-1zM35 46h2v1h-2zM35 31h2v1h-2zM36 30h1v1h-1zM34 18h1v1h-1zM35 16h2v1h-2zM33 10h1v1h-1zM32 7h1v1h-1zM35 6h1v1h-1zM35 1h2v1h-2z"/>
<path fill="#6baed6" d="M31 95h1v1h-1zM32 89h1v1h-1zM35 87h1v1h-1zM35 80h1v1h-1zM36 79h1v1h-1zM35 74h1v1h-1zM31 70h1v1h-1zM31 69h1v1h-1zM36 61h1v1h-1zM31 56h1v1h-1zM31 47h1v1h-1zM34 45h1v1h-1zM34 38h1v1h-1zM34 33h1v1h-1zM31 31h1v1h-1zM34 23h1v1h-1zM31 11h1v1h-1z"/>
<path fill="#d9e8f5" d="M32 95h1v1h-1zM32 79h1v1h-1zM34 65h1v1h-1zM33 49h1v1h-1zM34 27h1v1h-1zM32 12h1v1h-1zM32 9h1v1h-1zM33 6h1v1h-1z"/>
<path fill="#f7fbff" d="M33 95h1v1h-1zM33 91h2v1h-2zM33 75h1v1h-1zM33 67h2v1h-2zM32 61h2v1h-2zM34 51h1v1h-1zM34 49h1v1h-1zM34 44h1v1h-1zM33 43h1v1h-1zM33 32h2v1h-2zM34 26h1v1h-1zM33 25h2v1h-2zM33 24h2v1h-2zM34 21h1v1h-1zM34 3h1v1h-1zM33 2h1v1h-1zM34 1h1v1h-1z"/>
<path fill="#d6e6f4" d="M34 95h1v1h-1zM34 94h1v1h-1zM32 91h1v1h-1zM35 85h1v1h-1zM34 82h1v1h-1zM34 78h1v1h-1zM32 76h1v1h-1zM34 61h1v1h-1zM32 42h1v1h-1zM33 33h1v1h-1zM33 5h1v1h-1zM32 3h1v1h-1z"/>
<path fill="#559fcd" d="M35 95h1v1h-1zM35 78h1v1h-1zM31 76h1v1h-1zM32 66h1v1h-1zM35 62h2v1h-2zM33 16h1v1h-1zM31 6h1v1h-1z"/>
<path fill="#60a7d2" d="M36 95h1v1h-1zM35 94h1v1h-1zM32 92h1v1h-1zM31 91h1v1h-1zM36 87h1v1h-1zM36 80h1v1h-1zM35 79h1v1h-1zM35 75h1v1h-1zM36 51h1v1h-1zM30 44h1v1h-1zM30 36h1v1h-1zM37 26h1v1h-1zM31 22h1v1h-1zM31 21h1v1h-1zM34 20h1v1h-1zM33 19h1v1h-1zM31 16h2v1h-2zM35 14h1v1h-1zM31 12h1v1h-1z"/>
<path fill="#2171b5" d="M37 95h1v1h-1zM37 89h1v1h-1zM38 87h1v1h-1zM38 86h1v1h-1zM30 83h1v1h-1zM30 82h1v1h-1zM37 78h1v1h-1zM62 71h1v1h-1zM37 70h1v1h-1zM35 66h1v1h-1zM44 63h1v1h-1zM31 62h1v1h-1zM30 57h1v1h-1zM35 57h2v1h-2zM37 54h1v1h-1zM41 54h1v1h-1zM33 45h1v1h-1zM43 37h1v1h-1zM34 34h3v1h-3zM38 32h1v1h-1zM30 31h1v1h-1zM30 30h1v1h-1zM35 28h2v1h-2zM37 24h1v1h-1zM36 22h1v1h-1zM38 21h1v1h-1zM35 8h2v1h-2zM37 3h1v1h-1zM30 2h1v1h-1z"/>
<path fill="#4594c7" d="M31 94h1v1h-1zM30 67h1v1h-1zM31 65h1v1h-1zM33 62h1v1h-1zM36 56h1v1h-1zM32 35h1v1h-1zM37 32h1v1h-1zM36 27h1v1h-1zM31 23h1v1h-1zM34 19h1v1h-1zM31 17h1v1h-1zM30 12h1v1h-1zM34 10h1v1h-1zM36 6h1v1h-1z"/>
<path fill="#abd0e6" d="M32 94h1v1h-1zM33 74h1v1h-1zM33 57h1v1h-1zM33 56h1v1h-1z"/>
<path fill="#f4f9fe" d="M33 94h1v1h-1zM33 55h2v1h-2zM32 44h2v1h-2zM34 43h1v1h-1zM33 30h1v1h-1zM33 26h1v1h-1z"/>
<path fill="#66aad4" d="M36 94h1v1h-1zM31 84h1v1h-1zM36 48h1v1h-1zM33 46h1v1h-1zM31 43h1v1h-1zM35 40h1v1h-1zM32 34h1v1h-1zM33 17h1v1h-1zM31 15h2v1h-2zM34 7h1v1h-1zM31 5h1v1h-1z"/>
<path fill="#1e6db2" d="M38 94h1v1h-1zM40 93h1v1h-1zM38 90h1v1h-1zM29 78h1v1h-1zM45 53h1v1h-1zM38 48h1v1h-1zM38 46h1v1h-1zM30 41h1v1h-1zM33 39h1v1h-1zM41 34h1v1h-1zM30 32h1v1h-1zM43 31h1v1h-1zM52 28h1v1h-1zM49 17h1v1h-1zM29 12h1v1h-1zM38 3h1v1h-1zM38 1h1v1h-1z"/>
<path fill="#08306b" d="M8 93h1v1h-1zM1 92h2v1h-2zM11 84h1v1h-1zM14 84h5v1h-5zM17 71h1v1h-1zM5 69h2v1h-2zM5 67h1v1h-1zM0 57h1v1h-1zM9 55h2v1h-2zM2 51h2v1h-2zM4 50h1v1h-1zM9 47h1v1h-1zM12 46h3v1h-3zM5 45h1v1h-1zM14 45h4v1h-4zM1 41h2v1h-2zM7 40h1v1h-1zM8 39h1v1h-1zM12 36h2v1h-2zM5 31h1v1h-1zM6 30h2v1h-2zM1 19h1v1h-1zM8 4h2v1h-2zM7 3h2v1h-2zM10 3h2v1h-2zM14 3h1v1h-1zM11 2h1v1h-1z"/>
<path fill="#2e7ebc" d="M34 93h1v1h-1zM33 92h1v1h-1zM31 89h1v1h-1zM31 82h1v1h-1zM31 80h1v1h-1zM37 77h1v1h-1zM34 73h1v1h-1zM35 67h2v1h-2zM34 64h1v1h-1zM37 62h1v1h-1zM37 61h1v1h-1zM32 59h1v1h-1zM30 56h1v1h-1zM37 55h1v1h-1zM30 53h1v1h-1zM37 49h1v1h-1zM37 46h1v1h-1zM32 45h1v1h-1zM36 44h1v1h-1zM37 40h1v1h-1zM31 38h1v1h-1zM31 37h1v1h-1zM33 35h1v1h-1zM36 33h1v1h-1zM34 28h1v1h-1zM31 27h1v1h-1zM30 26h1v1h-1zM29 25h1v1h-1zM35 25h1v1h-1zM35 24h2v1h-2zM36 20h1v1h-1zM31 18h1v1h-1zM33 18h1v1h-1zM35 18h2v1h-2zM34 17h1v1h-1zM33 15h1v1h-1zM34 11h1v1h-1z"/>
<path fill="#2575b7" d="M41 93h1v1h-1zM38 85h1v1h-1zM41 78h1v1h-1zM38 77h1v1h-1zM36 66h1v1h-1zM37 63h1v1h-1zM52 61h1v1h-1zM37 51h1v1h-1zM42 37h1v1h-1zM35 22h1v1h-1zM37 20h1v1h-1zM50 17h1v1h-1z"/>
<path fill="#509bcb" d="M31 92h1v1h-1zM37 86h1v1h-1zM31 54h1v1h-1zM35 54h2v1h-2zM32 46h1v1h-1zM36 42h1v1h-1zM37 21h1v1h-1zM32 19h1v1h-1zM36 3h1v1h-1z"/>
<path fill="#c6dbef" d="M35 91h1v1h-1zM33 88h1v1h-1zM33 86h1v1h-1zM36 85h1v1h-1zM32 47h1v1h-1z"/>
<path fill="#bbd6eb" d="M36 91h1v1h-1zM36 86h1v1h-1zM31 85h1v1h-1zM32 81h1v1h-1zM31 75h1v1h-1zM34 74h1v1h-1zM32 54h1v1h-1zM34 41h1v1h-1zM32 32h1v1h-1zM31 9h1v1h-1z"/>
<path fill="#5ba3d0" d="M37 91h1v1h-1zM31 88h1v1h-1zM36 78h1v1h-1zM33 72h1v1h-1zM35 70h2v1h-2zM34 69h1v1h-1zM31 66h1v1h-1zM31 57h1v1h-1zM34 57h1v1h-1zM30 55h1v1h-1zM35 55h2v1h-2zM35 51h1v1h-1zM34 50h1v1h-1zM35 48h1v1h-1zM36 14h1v1h-1zM32 10h1v1h-1zM37 9h1v1h-1zM31 7h1v1h-1zM31 3h1v1h-1z"/>
<path fill="#1a68ae" d="M47 91h1v1h-1zM30 90h1v1h-1zM30 88h1v1h-1zM38 88h1v1h-1zM30 87h1v1h-1zM30 86h1v1h-1zM48 86h2v1h-2zM42 83h1v1h-1zM45 82h1v1h-1zM42 77h1v1h-1zM45 72h1v1h-1zM30 65h1v1h-1zM37 65h1v1h-1zM51 61h1v1h-1zM53 61h1v1h-1zM38 56h1v1h-1zM36 45h1v1h-1zM51 33h1v1h-1zM65 33h1v1h-1zM42 31h1v1h-1zM37 22h2v1h-2zM48 21h1v1h-1zM35 19h2v1h-2zM57 18h1v1h-1zM30 15h1v1h-1zM29 10h2v1h-2zM30 1h1v1h-1z"/>
<path fill="#eaf2fb" d="M32 90h1v1h-1zM33 83h1v1h-1zM33 79h1v1h-1zM32 63h1v1h-1zM32 36h2v1h-2zM34 31h1v1h-1zM33 14h1v1h-1zM33 12h1v1h-1zM34 8h1v1h-1z"/>
<path fill="#edf5fc" d="M33 90h2v1h-2zM34 86h1v1h-1zM33 85h1v1h-1zM33 78h1v1h-1zM34 75h1v1h-1zM34 70h1v1h-1zM33 54h1v1h-1zM33 51h1v1h-1zM33 31h1v1h-1zM34 30h1v1h-1zM33 3h1v1h-1z"/>
<path fill="#72b2d7" d="M35 90h1v1h-1zM32 86h1v1h-1zM36 75h1v1h-1zM32 72h1v1h-1zM31 68h1v1h-1zM34 60h1v1h-1zM31 52h1v1h-1zM31 41h1v1h-1zM31 33h1v1h-1zM31 32h1v1h-1z"/>
<path fill="#79b5d9" d="M36 90h1v1h-1zM31 83h1v1h-1zM32 74h1v1h-1zM34 68h1v1h-1zM36 68h1v1h-1zM35 61h1v1h-1zM35 60h1v1h-1zM31 51h1v1h-1zM31 49h1v1h-1zM31 48h1v1h-1zM35 43h1v1h-1zM31 42h1v1h-1zM36 40h1v1h-1zM32 17h1v1h-1zM35 9h1v1h-1zM31 2h1v1h-1zM31 1h1v1h-1zM34 0h1v1h-1z"/>
<path fill="#dceaf6" d="M33 89h1v1h-1zM33 84h1v1h-1zM34 79h1v1h-1zM32 77h1v1h-1zM33 76h1v1h-1zM33 48h1v1h-1zM31 44h1v1h-1zM33 38h1v1h-1zM32 31h1v1h-1zM32 26h1v1h-1zM34 5h1v1h-1z"/>
<path fill="#a6cde4" d="M32 88h1v1h-1zM34 80h1v1h-1zM31 79h1v1h-1zM34 63h1v1h-1zM34 52h1v1h-1zM34 42h1v1h-1zM36 32h1v1h-1zM31 30h1v1h-1zM35 26h1v1h-1z"/>
<path fill="#e6f0fa" d="M34 88h1v1h-1zM32 78h1v1h-1zM34 77h1v1h-1zM32 52h1v1h-1zM32 30h1v1h-1zM32 24h1v1h-1zM32 14h1v1h-1zM33 9h1v1h-1zM32 8h2v1h-2z"/>
<path fill="#8dc1dd" d="M31 87h1v1h-1zM31 81h1v1h-1zM36 77h1v1h-1zM33 68h1v1h-1zM34 66h1v1h-1zM34 56h1v1h-1zM32 53h1v1h-1zM36 43h1v1h-1zM34 37h1v1h-1zM35 32h1v1h-1zM33 28h1v1h-1zM33 22h1v1h-1z"/>
<path fill="#e0ecf8" d="M32 87h1v1h-1zM34 85h1v1h-1zM33 80h1v1h-1zM32 69h1v1h-1zM33 65h1v1h-1zM32 40h2v1h-2zM31 36h1v1h-1zM32 2h1v1h-1z"/>
<path fill="#c1d9ed" d="M33 87h1v1h-1zM34 72h1v1h-1zM34 62h1v1h-1zM33 52h1v1h-1zM32 48h1v1h-1zM34 48h1v1h-1zM33 37h1v1h-1zM31 25h1v1h-1zM32 6h1v1h-1z"/>
<path fill="#a1cbe2" d="M34 87h1v1h-1zM33 82h1v1h-1zM35 77h1v1h-1zM33 70h1v1h-1zM34 46h1v1h-1zM34 40h1v1h-1zM32 1h1v1h-1z"/>
<path fill="#d3e4f3" d="M32 84h1v1h-1zM33 81h1v1h-1zM33 47h1v1h-1zM33 42h1v1h-1zM32 41h1v1h-1zM32 11h1v1h-1zM34 2h1v1h-1zM33 1h1v1h-1z"/>
<path fill="#d0e1f2" d="M32 83h1v1h-1zM32 51h1v1h-1zM32 33h1v1h-1z"/>
<path fill="#3383be" d="M30 79h1v1h-1zM30 78h1v1h-1zM37 74h1v1h-1zM38 60h1v1h-1zM34 53h1v1h-1zM37 43h1v1h-1zM32 39h1v1h-1zM35 33h1v1h-1zM31 28h1v1h-1zM36 25h1v1h-1zM30 9h1v1h-1zM38 9h1v1h-1zM33 7h1v1h-1z"/>
<path fill="#b1d2e8" d="M31 78h1v1h-1zM33 69h1v1h-1zM32 68h1v1h-1zM32 57h1v1h-1zM31 40h1v1h-1zM32 23h1v1h-1zM34 16h1v1h-1zM33 11h1v1h-1z"/>
<path fill="#f0f7fd" d="M32 75h1v1h-1zM32 55h1v1h-1zM33 27h1v1h-1zM32 25h1v1h-1zM34 6h1v1h-1z"/>
<path fill="#ccdff1" d="M31 67h1v1h-1zM32 56h1v1h-1zM31 55h1v1h-1zM32 49h1v1h-1zM33 41h1v1h-1z"/>
<path fill="#c9ddf0" d="M31 61h1v1h-1zM32 43h1v1h-1zM32 21h1v1h-1zM32 5h1v1h-1z"/>
<path fill="#b6d4e9" d="M34 36h1v1h-1zM36 26h1v1h-1zM35 21h2v1h-2z"/>
</g></g>
<rect x="135.2" y="27.5" width="513.5" height="360.6" fill="none" stroke="#000" stroke-width="1.3"/>
<line x1="125.2" y1="388.1" x2="135.2" y2="388.1" stroke="#333" stroke-width="1.2"/>
<text x="98.14" y="396.6" font-size="23" textLength="15.56" lengthAdjust="spacingAndGlyphs">0</text>
<line x1="125.2" y1="315.98" x2="135.2" y2="315.98" stroke="#333" stroke-width="1.2"/>
<text x="82.98" y="324.48" font-size="23" textLength="30.71" lengthAdjust="spacingAndGlyphs">20</text>
<line x1="125.2" y1="243.86" x2="135.2" y2="243.86" stroke="#333" stroke-width="1.2"/>
<text x="83.74" y="252.36" font-size="23" textLength="29.92" lengthAdjust="spacingAndGlyphs">40</text>
<line x1="125.2" y1="171.74" x2="135.2" y2="171.74" stroke="#333" stroke-width="1.2"/>
<text x="82.95" y="180.24" font-size="23" textLength="30.74" lengthAdjust="spacingAndGlyphs">60</text>
<line x1="125.2" y1="99.62" x2="135.2" y2="99.62" stroke="#333" stroke-width="1.2"/>
<text x="83.18" y="108.12" font-size="23" textLength="30.5" lengthAdjust="spacingAndGlyphs">80</text>
<line x1="125.2" y1="27.5" x2="135.2" y2="27.5" stroke="#333" stroke-width="1.2"/>
<text x="71.23" y="36" font-size="23" textLength="42.37" lengthAdjust="spacingAndGlyphs">100</text>
<line x1="135.2" y1="388.1" x2="135.2" y2="398.1" stroke="#333" stroke-width="1.2"/>
<text x="116.7" y="428" font-size="23" textLength="36.78" lengthAdjust="spacingAndGlyphs">−10</text>
<line x1="263.57" y1="388.1" x2="263.57" y2="398.1" stroke="#333" stroke-width="1.2"/>
<text x="250.63" y="428" font-size="23" textLength="25.73" lengthAdjust="spacingAndGlyphs">−5</text>
<line x1="391.95" y1="388.1" x2="391.95" y2="398.1" stroke="#333" stroke-width="1.2"/>
<text x="384.17" y="428" font-size="23" textLength="15.56" lengthAdjust="spacingAndGlyphs">0</text>
<line x1="520.33" y1="388.1" x2="520.33" y2="398.1" stroke="#333" stroke-width="1.2"/>
<text x="512.51" y="428" font-size="23" textLength="15.69" lengthAdjust="spacingAndGlyphs">5</text>
<line x1="648.7" y1="388.1" x2="648.7" y2="398.1" stroke="#333" stroke-width="1.2"/>
<text x="634.54" y="428" font-size="23" textLength="27.41" lengthAdjust="spacingAndGlyphs">10</text>
<linearGradient id="cbg" x1="0" y1="385.8" x2="0" y2="27.4" gradientUnits="userSpaceOnUse"><stop offset="0" stop-color="#08306b"/><stop offset="0.05" stop-color="#083d7f"/><stop offset="0.1" stop-color="#084a92"/><stop offset="0.15" stop-color="#0d57a1"/><stop offset="0.2" stop-color="#1764ab"/><stop offset="0.25" stop-color="#2171b5"/><stop offset="0.3" stop-color="#2e7ebc"/><stop offset="0.35" stop-color="#3b8bc3"/><stop offset="0.4" stop-color="#4a98c9"/><stop offset="0.45" stop-color="#5ba3d0"/><stop offset="0.5" stop-color="#6baed6"/><stop offset="0.55" stop-color="#7fb9da"/><stop offset="0.6" stop-color="#94c4df"/><stop offset="0.65" stop-color="#a6cde4"/><stop offset="0.7" stop-color="#b6d4e9"/><stop offset="0.75" stop-color="#c6dbef"/><stop offset="0.8" stop-color="#d0e1f2"/><stop offset="0.85" stop-color="#d9e8f5"/><stop offset="0.9" stop-color="#e3eef9"/><stop offset="0.95" stop-color="#edf5fc"/><stop offset="1" stop-color="#f7fbff"/></linearGradient>
<rect x="656.2" y="27.5" width="25.4" height="361.5" fill="url(#cbg)" stroke="#333" stroke-width="1.2"/>
<line x1="681.6" y1="385.8" x2="691.6" y2="385.8" stroke="#333" stroke-width="1.2"/>
<text x="703.32" y="393.3" font-size="23" textLength="15.36" lengthAdjust="spacingAndGlyphs">0</text>
<line x1="681.6" y1="296.2" x2="691.6" y2="296.2" stroke="#333" stroke-width="1.2"/>
<text x="703.45" y="303.7" font-size="23" textLength="47.38" lengthAdjust="spacingAndGlyphs">0.25</text>
<line x1="681.6" y1="206.6" x2="691.6" y2="206.6" stroke="#333" stroke-width="1.2"/>
<text x="703.45" y="214.1" font-size="23" textLength="47.3" lengthAdjust="spacingAndGlyphs">0.50</text>
<line x1="681.6" y1="117" x2="691.6" y2="117" stroke="#333" stroke-width="1.2"/>
<text x="703.45" y="124.5" font-size="23" textLength="47.38" lengthAdjust="spacingAndGlyphs">0.75</text>
<line x1="681.6" y1="27.4" x2="691.6" y2="27.4" stroke="#333" stroke-width="1.2"/>
<text x="702.52" y="34.9" font-size="23" textLength="48.26" lengthAdjust="spacingAndGlyphs">1.00</text>
<text y="474.1" font-size="27"><tspan x="296.2" font-style="italic">E</tspan><tspan x="312" y="481.6" font-size="20">ph</tspan><tspan x="342.7" y="470.6" font-size="21" stroke="#000" stroke-width="0.6">–</tspan><tspan x="363.2" y="474.1" font-style="italic">E</tspan><tspan x="378.7" y="481.6" font-size="20">c</tspan><tspan x="396.2" y="474.1">(eV)</tspan></text>
<text transform="translate(47.3,300.7) rotate(-90)" x="-2.32" y="0" font-size="27" textLength="174.67" lengthAdjust="spacingAndGlyphs">Pulse number</text>
<text x="-0.19" y="33.3" font-size="38" textLength="20.83" lengthAdjust="spacingAndGlyphs" font-weight="bold" stroke="#000" stroke-width="0.9">a</text>
<text x="834.34" y="33.4" font-size="39.8" textLength="27.39" lengthAdjust="spacingAndGlyphs" font-weight="bold" stroke="#000" stroke-width="1.3">b</text>
<text x="-1.09" y="546.4" font-size="37.5" textLength="24.16" lengthAdjust="spacingAndGlyphs" font-weight="bold" stroke="#000" stroke-width="0.9">c</text>
<clipPath id="cpb"><rect x="955.3" y="27.5" width="545.9" height="361.7"/></clipPath>
<g clip-path="url(#cpb)">
<polyline fill="none" stroke="#1f77b4" stroke-width="4" stroke-linejoin="round" stroke-linecap="round" points="955.3,372.7 1000,372.6 1030,372 1048.2,371.2 1055,369.5 1062,367.8 1075.7,367.2 1085,364.8 1093.5,362.3 1102,359 1111.2,355.4 1120,351.6 1128.9,347.5 1140,341.5 1150.5,334.8 1158,329.5 1166.2,324.9 1176.1,319 1182,314 1187.9,309.2 1195.8,306.8 1201.7,305.6 1207,303 1213.5,300.7 1220,301.8 1227.2,302.9 1234.5,301.7 1243,300.6 1252,300.2 1263.9,299.7 1272,301.4 1282.2,303.4 1290,303 1298.8,302.7 1305,304.3 1312,307.3 1319,310 1331.8,312.2 1346.5,317.4 1366.7,321.8 1379.6,324.2 1392.4,328.8 1402,332.8 1412.6,337 1420,340 1429.1,342 1440.1,343.8 1447,346.3 1453,348 1464,349.9 1480,353.5 1500.7,358.1"/>
<polyline fill="none" stroke="#ff7f0e" stroke-width="4" stroke-linejoin="round" stroke-linecap="round" points="1106.8,372.1 1130,372.3 1156.4,372.1 1175,371 1191.8,369.6 1200,368.6 1205.9,367.4 1208.5,363.5 1210.7,358.4 1212.5,349 1213.8,339.3 1215.4,327.7 1216.5,301.2 1218.4,260 1220.7,130 1222.3,82.5 1226.8,43.1 1229.8,130 1233.5,240 1236,310 1238.4,363.7 1243.3,363.7 1247.3,368.8 1260,369.6 1276.7,370 1290,370.4 1300,369.8 1310,370.3 1320,369.7 1328,370.5 1335,369.8 1342,370.4 1350.2,370"/>
</g>
<rect x="955.3" y="27.5" width="545.9" height="361.7" fill="none" stroke="#000" stroke-width="1.3"/>
<line x1="945.3" y1="372.9" x2="955.3" y2="372.9" stroke="#333" stroke-width="1.2"/>
<text x="917.54" y="381.4" font-size="23" textLength="15.56" lengthAdjust="spacingAndGlyphs">0</text>
<line x1="945.3" y1="263.6" x2="955.3" y2="263.6" stroke="#333" stroke-width="1.2"/>
<text x="887.52" y="272.1" font-size="23" textLength="45.55" lengthAdjust="spacingAndGlyphs">200</text>
<line x1="945.3" y1="154.3" x2="955.3" y2="154.3" stroke="#333" stroke-width="1.2"/>
<text x="888.27" y="162.8" font-size="23" textLength="44.79" lengthAdjust="spacingAndGlyphs">400</text>
<line x1="945.3" y1="45" x2="955.3" y2="45" stroke="#333" stroke-width="1.2"/>
<text x="887.5" y="53.5" font-size="23" textLength="45.58" lengthAdjust="spacingAndGlyphs">600</text>
<line x1="955.3" y1="389.2" x2="955.3" y2="399.2" stroke="#333" stroke-width="1.2"/>
<text x="934.86" y="427.8" font-size="23" textLength="40.66" lengthAdjust="spacingAndGlyphs">−20</text>
<line x1="1091.78" y1="389.2" x2="1091.78" y2="399.2" stroke="#333" stroke-width="1.2"/>
<text x="1073.28" y="427.8" font-size="23" textLength="36.78" lengthAdjust="spacingAndGlyphs">−10</text>
<line x1="1228.25" y1="389.2" x2="1228.25" y2="399.2" stroke="#333" stroke-width="1.2"/>
<text x="1220.47" y="427.8" font-size="23" textLength="15.56" lengthAdjust="spacingAndGlyphs">0</text>
<line x1="1364.72" y1="389.2" x2="1364.72" y2="399.2" stroke="#333" stroke-width="1.2"/>
<text x="1350.57" y="427.8" font-size="23" textLength="27.41" lengthAdjust="spacingAndGlyphs">10</text>
<line x1="1501.2" y1="389.2" x2="1501.2" y2="399.2" stroke="#333" stroke-width="1.2"/>
<text x="1485.7" y="427.8" font-size="23" textLength="30.71" lengthAdjust="spacingAndGlyphs">20</text>
<text y="474.1" font-size="27"><tspan x="1153.1" font-style="italic">E</tspan><tspan x="1168.9" y="481.6" font-size="20">ph</tspan><tspan x="1199.6" y="470.6" font-size="21" stroke="#000" stroke-width="0.6">–</tspan><tspan x="1220.1" y="474.1" font-style="italic">E</tspan><tspan x="1235.6" y="481.6" font-size="20">c</tspan><tspan x="1253.1" y="474.1">(eV)</tspan></text>
<text transform="translate(859.2,347.9) rotate(-90)" x="-1.25" y="0" font-size="27" textLength="254.4" lengthAdjust="spacingAndGlyphs">Spec. density (μJ eV</text>
<text transform="translate(845.9,92.8) rotate(-90)" x="-0.67" y="0" font-size="18" textLength="15.65" lengthAdjust="spacingAndGlyphs">−1</text>
<text transform="translate(858.6,75.2) rotate(-90)" x="-0.14" y="0" font-size="27" textLength="7.54" lengthAdjust="spacingAndGlyphs">)</text>
<line x1="1005.3" y1="70.2" x2="1028.9" y2="70.2" stroke="#1f77b4" stroke-width="4.2" stroke-linecap="round"/>
<line x1="1005.3" y1="102.5" x2="1028.9" y2="102.5" stroke="#ff7f0e" stroke-width="4.2" stroke-linecap="round"/>
<text x="1042.12" y="79.9" font-size="23" textLength="57.91" lengthAdjust="spacingAndGlyphs">SASE</text>
<text x="1042.23" y="112" font-size="23" textLength="74.58" lengthAdjust="spacingAndGlyphs">HXRSS</text>
<rect x="1294" y="49" width="164.5" height="181.4" fill="#fff" stroke="#444" stroke-width="1.2"/>
<clipPath id="cpi"><rect x="1294" y="49" width="164.5" height="181.4"/></clipPath>
<g clip-path="url(#cpi)">
<circle cx="1303.7" cy="215.1" r="6"/>
<circle cx="1320.3" cy="200.4" r="6"/>
<circle cx="1336.7" cy="157.6" r="6"/>
<circle cx="1353.2" cy="77.6" r="6"/>
<circle cx="1369.7" cy="57.2" r="6"/>
<circle cx="1385.7" cy="120.2" r="6"/>
<circle cx="1402.1" cy="178.9" r="6"/>
<circle cx="1419" cy="217.6" r="6"/>
<circle cx="1435.3" cy="217.6" r="6"/>
<circle cx="1451.7" cy="219.8" r="6"/>
<polyline fill="none" stroke="#ff7f0e" stroke-width="3.6" stroke-linejoin="round" stroke-linecap="round" points="1290,219.5 1303.7,215.1 1320.3,200.4 1336.7,157.6 1353.2,77.6 1369.7,57.2 1385.7,120.2 1402.1,178.9 1419,217.6 1435.3,217.6 1451.7,219.8 1462,221"/>
</g>
<line x1="1321.4" y1="230.4" x2="1321.4" y2="240.4" stroke="#333" stroke-width="1.2"/>
<text x="1311.06" y="269.6" font-size="23" textLength="21.88" lengthAdjust="spacingAndGlyphs">−1</text>
<line x1="1375.9" y1="230.4" x2="1375.9" y2="240.4" stroke="#333" stroke-width="1.2"/>
<text x="1368.72" y="269.6" font-size="23" textLength="15.56" lengthAdjust="spacingAndGlyphs">0</text>
<line x1="1430.4" y1="230.4" x2="1430.4" y2="240.4" stroke="#333" stroke-width="1.2"/>
<text x="1424.44" y="269.6" font-size="23" textLength="12.52" lengthAdjust="spacingAndGlyphs">1</text>
<clipPath id="cpc"><rect x="135.3" y="534.9" width="1365.8" height="361.6"/></clipPath>
<g clip-path="url(#cpc)">
<polygon fill="#7fb5de" stroke="#000" stroke-width="2.2" stroke-linejoin="miter" stroke-miterlimit="3" points="138.76,641.7 142.18,641.7 145.59,682 149.01,663.3 152.42,645.7 155.83,635.8 159.25,630.8 162.66,625.9 166.08,625.9 169.49,618.1 172.9,625.9 176.32,617.4 179.73,609.7 183.15,613.2 186.56,606.1 189.97,610.4 193.39,601.2 196.8,605.4 200.22,606.8 203.63,605.1 207.04,601.2 210.46,605.7 213.87,604 217.29,597.4 220.7,602.6 224.11,596.9 227.53,596.2 230.94,597.09 234.36,590.06 237.77,591.45 241.18,602.78 244.6,590.94 248.01,595.11 251.43,598.2 254.84,598.38 258.25,597.9 261.67,593.93 265.08,597.35 268.5,596.05 271.91,592.74 275.32,599.38 278.74,596.08 282.15,595.64 285.57,593.96 288.98,592.78 292.39,590.62 295.81,585.33 299.22,590.57 302.64,596.05 306.05,592.37 309.46,596.34 312.88,596.25 316.29,595.29 319.71,591.11 323.12,591.38 326.53,587.16 329.95,594.58 333.36,592.62 336.78,590.61 340.19,593.01 343.6,593.45 347.02,588.48 350.43,588.37 353.85,591.05 357.26,593.11 360.67,594.73 364.09,591.92 367.5,587.47 370.92,595.18 374.33,588.51 377.74,593.8 381.16,597.73 384.57,589.26 387.99,591 391.4,595.85 394.81,598.41 398.23,585.37 401.64,599.18 405.06,593.98 408.47,589.94 411.88,592.55 415.3,594.77 418.71,589.95 422.13,600.08 425.54,597.88 428.95,590.49 432.37,591.67 435.78,591.93 439.2,591.73 442.61,600.22 446.02,599.28 449.44,589.02 452.85,592.35 456.27,592.93 459.68,598.17 463.09,595.82 466.51,594.03 469.92,591.69 473.34,591.68 476.75,593.55 480.16,590.31 483.58,596.94 486.99,596.52 490.41,594.62 493.82,591.24 497.23,587.75 500.65,592.76 504.06,594.66 507.48,589.81 510.89,587.04 514.3,593.84 517.72,594.03 521.13,598.49 524.55,589.99 527.96,589.14 531.37,583.56 534.79,597.28 538.2,594.63 541.62,588.4 545.03,587.15 548.44,593.83 551.86,584.04 555.27,583.95 558.69,583.85 562.1,585.89 565.51,594.28 568.93,588.56 572.34,590.43 575.76,586.82 579.17,584.03 582.58,577.82 586,580.27 589.41,586.2 592.83,584.86 596.24,588.39 599.65,587.98 603.07,587.03 606.48,585.5 609.9,585.38 613.31,580.24 616.72,583.93 620.14,581.68 623.55,580.56 626.97,581.86 630.38,581.65 633.79,579.27 637.21,580.02 640.62,577.97 644.04,575.05 647.45,581.6 650.86,579.31 654.28,585.46 657.69,581.91 661.11,575.34 664.52,579.07 667.93,588.64 671.35,583.02 674.76,585.07 678.18,586.29 681.59,577.31 685,580.29 688.42,585.67 691.83,584.19 695.25,581.64 698.66,583.1 702.07,584 705.49,578.15 708.9,581.87 712.32,578.18 715.73,583.09 719.14,578.12 722.56,578.2 725.97,583.29 729.39,578.2 732.8,580.59 736.21,583.24 739.63,579.35 743.04,582 746.46,576.67 749.87,584.17 753.28,576.96 756.7,580.59 760.11,580.5 763.53,581.04 766.94,573.72 770.35,579.41 773.77,576.89 777.18,582.28 780.6,580.09 784.01,581.74 787.42,574.87 790.84,580.97 794.25,590.03 797.67,578.49 801.08,569.87 804.49,580.61 807.91,572.15 811.32,585.05 814.74,575.28 818.15,579.76 821.56,577.63 824.98,578.08 828.39,579.57 831.81,582.42 835.22,584.95 838.63,577 842.05,578.49 845.46,582.89 848.88,577.03 852.29,579.57 855.7,582.63 859.12,573.46 862.53,582.26 865.95,577.68 869.36,572.82 872.77,578.12 876.19,583.38 879.6,586.41 883.02,581.89 886.43,579.35 889.84,580.42 893.26,578.86 896.67,582.44 900.09,572.3 903.5,583.2 906.91,572.17 910.33,579.62 913.74,574.89 917.16,574.9 920.57,573.44 923.98,585.57 927.4,585 930.81,579.84 934.23,581.74 937.64,577.42 941.05,574.35 944.47,579.58 947.88,582.15 951.3,577.36 954.71,581.27 958.12,583.6 961.54,577.48 964.95,574.64 968.37,574.33 971.78,581.1 975.19,578.87 978.61,570.3 982.02,591.87 985.44,584.2 988.85,586.76 992.26,585.18 995.68,578.51 999.09,584.74 1002.51,578.24 1005.92,585.61 1009.33,595.43 1012.75,591.41 1016.16,579.63 1019.58,586.61 1022.99,593.25 1026.4,585.43 1029.82,589.65 1033.23,591.11 1036.65,582.05 1040.06,594.08 1043.47,594.11 1046.89,586.46 1050.3,599.83 1053.72,592.72 1057.13,593.12 1060.54,594.61 1063.96,593.37 1067.37,590.24 1070.79,595.82 1074.2,596.7 1077.61,603.51 1081.03,598.54 1084.44,598.89 1087.86,598.02 1091.27,600.59 1094.68,598.23 1098.1,599.88 1101.51,602.52 1104.93,597.45 1108.34,591.7 1111.75,597.47 1115.17,606.72 1118.58,600.78 1122,600.62 1125.41,601.69 1128.82,594.02 1132.24,598.87 1135.65,595.88 1139.07,598.04 1142.48,592.44 1145.89,599.41 1149.31,592.78 1152.72,591.79 1156.14,594.67 1159.55,588.18 1162.96,594.37 1166.38,591.34 1169.79,590.85 1173.21,606.18 1176.62,592.45 1180.03,593.32 1183.45,594.75 1186.86,595.24 1190.28,586.45 1193.69,589.69 1197.1,596.5 1200.52,594.31 1203.93,599.9 1207.35,587.92 1210.76,595.32 1214.17,604.1 1217.59,585.86 1221,591.8 1224.42,589.93 1227.83,590.49 1231.24,597.11 1234.66,597.97 1238.07,590.72 1241.49,593.56 1244.9,601.03 1248.31,598.84 1251.73,583.02 1255.14,591.68 1258.56,595.51 1261.97,594.88 1265.38,595.66 1268.8,604.77 1272.21,601.26 1275.63,596.24 1279.04,596.45 1282.45,602.74 1285.87,599.89 1289.28,603.97 1292.7,601.93 1296.11,600.21 1299.52,608.22 1302.94,599.48 1306.35,603.3 1309.77,599.96 1313.18,601.65 1316.59,602.11 1320.01,591.85 1323.42,605.67 1326.84,607.03 1330.25,605.39 1333.66,608.69 1337.08,603.53 1340.49,605.61 1343.91,596.25 1347.32,605.28 1350.73,607.93 1354.15,610.63 1357.56,616.62 1360.98,607.25 1364.39,604.67 1367.8,600.88 1371.22,605.59 1374.63,606.64 1378.05,610.31 1381.46,608.38 1384.87,612.02 1388.29,602.31 1391.7,606.47 1395.12,608.71 1398.53,606.06 1401.94,612.29 1405.36,609.28 1408.77,607.58 1412.19,607.55 1415.6,608.28 1419.01,610.72 1422.43,607.79 1425.84,609.51 1429.26,615.45 1432.67,608.9 1436.08,613.2 1439.5,607.01 1442.91,606.14 1446.33,608.66 1449.74,600.76 1453.15,609.12 1456.57,611.27 1459.98,599.03 1463.4,601.38 1466.81,608.54 1470.22,614.87 1473.64,600.62 1477.05,604.46 1480.47,604.37 1483.88,608.45 1487.29,603.21 1490.71,602.77 1494.12,612.64 1497.54,605.91 1500.95,608.26 1500.95,798.61 1497.54,800.56 1494.12,801.95 1490.71,804.02 1487.29,798.05 1483.88,799.03 1480.47,796.83 1477.05,803.33 1473.64,788.84 1470.22,800.99 1466.81,796.4 1463.4,800.53 1459.98,798.72 1456.57,799.16 1453.15,799.21 1449.74,806.95 1446.33,793.58 1442.91,797.59 1439.5,803.31 1436.08,801.34 1432.67,798.61 1429.26,804.42 1425.84,795.16 1422.43,797.33 1419.01,801.51 1415.6,805.83 1412.19,801.65 1408.77,803.98 1405.36,799.6 1401.94,800.59 1398.53,806.21 1395.12,798.04 1391.7,805.89 1388.29,796.92 1384.87,798.28 1381.46,799.37 1378.05,804.34 1374.63,801.57 1371.22,805.92 1367.8,792.09 1364.39,794.86 1360.98,809.04 1357.56,802.01 1354.15,806.08 1350.73,801.28 1347.32,798.48 1343.91,792.32 1340.49,801.35 1337.08,803.48 1333.66,801.93 1330.25,796.52 1326.84,799.64 1323.42,803.54 1320.01,791.63 1316.59,795.01 1313.18,795.34 1309.77,794.95 1306.35,795.74 1302.94,800.75 1299.52,798.56 1296.11,795.25 1292.7,798.78 1289.28,801.17 1285.87,798.32 1282.45,792.28 1279.04,799.39 1275.63,803.56 1272.21,798.13 1268.8,800.55 1265.38,795.08 1261.97,800.42 1258.56,789.22 1255.14,797.21 1251.73,787.76 1248.31,798.1 1244.9,804.41 1241.49,795.34 1238.07,791.27 1234.66,789.35 1231.24,794.39 1227.83,794.64 1224.42,794.73 1221,786.61 1217.59,792.94 1214.17,798.46 1210.76,788.83 1207.35,790.43 1203.93,793.89 1200.52,788.44 1197.1,789.54 1193.69,785.72 1190.28,784.59 1186.86,789.36 1183.45,786.87 1180.03,792.94 1176.62,783.49 1173.21,802.47 1169.79,796.86 1166.38,786.55 1162.96,792.43 1159.55,795.73 1156.14,791.04 1152.72,785.79 1149.31,792.68 1145.89,799.04 1142.48,787.66 1139.07,795.11 1135.65,791.89 1132.24,795.97 1128.82,796.63 1125.41,795.23 1122,792.36 1118.58,796 1115.17,797.67 1111.75,791.89 1108.34,795.09 1104.93,799.61 1101.51,792.65 1098.1,794.06 1094.68,802.22 1091.27,790.43 1087.86,797.23 1084.44,793.03 1081.03,793.35 1077.61,790.65 1074.2,794.16 1070.79,787.93 1067.37,784.67 1063.96,790.42 1060.54,795.17 1057.13,784.16 1053.72,793.73 1050.3,791.54 1046.89,787.8 1043.47,786.54 1040.06,788.62 1036.65,787.69 1033.23,795.68 1029.82,781.86 1026.4,790.85 1022.99,787.53 1019.58,788.47 1016.16,785.96 1012.75,782.2 1009.33,785.58 1005.92,786.48 1002.51,785.94 999.09,788.48 995.68,792.05 992.26,786.43 988.85,782.81 985.44,777.55 982.02,783.58 978.61,769 975.19,781.96 971.78,780.39 968.37,786.93 964.95,778.18 961.54,779.22 958.12,782.4 954.71,782.79 951.3,781.7 947.88,782.52 944.47,782.97 941.05,774.43 937.64,782.07 934.23,786.73 930.81,781.33 927.4,787.4 923.98,781.36 920.57,781.89 917.16,776.72 913.74,777.08 910.33,777.55 906.91,782.88 903.5,779.99 900.09,774.41 896.67,780.33 893.26,782.67 889.84,779.12 886.43,787.97 883.02,777.6 879.6,783.01 876.19,791.04 872.77,787.73 869.36,783.59 865.95,782.77 862.53,786.94 859.12,784.32 855.7,785.54 852.29,783.59 848.88,789.19 845.46,782.18 842.05,791.77 838.63,788.72 835.22,782.14 831.81,788.16 828.39,786.41 824.98,776.34 821.56,789.76 818.15,787.01 814.74,778.08 811.32,789.98 807.91,780.6 804.49,782.27 801.08,785.42 797.67,785.02 794.25,782.07 790.84,777.12 787.42,781.97 784.01,778.6 780.6,786.19 777.18,778.59 773.77,786.62 770.35,780.66 766.94,786.27 763.53,789.95 760.11,775.97 756.7,788.59 753.28,788.59 749.87,783.95 746.46,785.73 743.04,782.7 739.63,783.58 736.21,783.37 732.8,787.53 729.39,789.91 725.97,788.22 722.56,792.03 719.14,784.98 715.73,783.96 712.32,783.14 708.9,783.33 705.49,778.26 702.07,783.52 698.66,784.64 695.25,788.42 691.83,786.06 688.42,783.99 685,788.96 681.59,784.06 678.18,794.61 674.76,793.94 671.35,788.97 667.93,791.71 664.52,783.3 661.11,787.7 657.69,789.53 654.28,789.67 650.86,790.49 647.45,786.58 644.04,781.25 640.62,789.13 637.21,791.32 633.79,790.14 630.38,785.1 626.97,781.39 623.55,787.26 620.14,784.91 616.72,783.25 613.31,791.18 609.9,793.85 606.48,792.76 603.07,794.96 599.65,789.23 596.24,789.43 592.83,785.62 589.41,793.79 586,785.33 582.58,783.81 579.17,794.45 575.76,787.29 572.34,793.09 568.93,789.61 565.51,791.54 562.1,794.55 558.69,793.58 555.27,794.58 551.86,791.36 548.44,791.54 545.03,790.54 541.62,788.67 538.2,805.33 534.79,794.98 531.37,790.93 527.96,792.38 524.55,795.51 521.13,801.03 517.72,795.59 514.3,801.61 510.89,790.49 507.48,796.05 504.06,800.52 500.65,791.34 497.23,791.17 493.82,794.79 490.41,792.35 486.99,793.19 483.58,793.39 480.16,792.71 476.75,793.06 473.34,796.19 469.92,798.23 466.51,788.97 463.09,794.86 459.68,800.12 456.27,799.55 452.85,791.67 449.44,787.02 446.02,801.82 442.61,797.49 439.2,797.57 435.78,787.08 432.37,793.96 428.95,786.56 425.54,798.09 422.13,790.79 418.71,788.62 415.3,800.19 411.88,787.23 408.47,795.62 405.06,795.03 401.64,792.36 398.23,789.71 394.81,798.65 391.4,797.46 387.99,798 384.57,794.23 381.16,790.76 377.74,797.71 374.33,792.22 370.92,792.08 367.5,795.68 364.09,795.71 360.67,783 357.26,792.5 353.85,792.04 350.43,792.11 347.02,800.22 343.6,788.61 340.19,793.15 336.78,781.76 333.36,795.56 329.95,793.83 326.53,788.58 323.12,799.62 319.71,796.4 316.29,793.9 312.88,794.58 309.46,798.55 306.05,788.85 302.64,793.87 299.22,797.05 295.81,790.36 292.39,791.33 288.98,790.68 285.57,785.73 282.15,800.13 278.74,794.41 275.32,792.1 271.91,791.41 268.5,792.44 265.08,799.71 261.67,800.17 258.25,790.96 254.84,797.52 251.43,795.83 248.01,791.81 244.6,799.67 241.18,795.67 237.77,801.83 234.36,793.65 230.94,789.11 227.53,798.3 224.11,795.7 220.7,804.8 217.29,800.3 213.87,801.3 210.46,808.3 207.04,799.8 203.63,798.8 200.22,804.8 196.8,804.3 193.39,799.8 189.97,806.3 186.56,807.8 183.15,804.8 179.73,808.1 176.32,807.8 172.9,816.4 169.49,818.4 166.08,812.9 162.66,814.9 159.25,821 155.83,822 152.42,826 149.01,839.6 145.59,851.7 142.18,825 138.76,830.5"/>
<marker id="mk" markerUnits="userSpaceOnUse" markerWidth="10" markerHeight="10" refX="5" refY="5" overflow="visible"><circle cx="5" cy="5" r="3.7" fill="#d5521b"/></marker>
<polyline fill="none" stroke="#d5521b" stroke-width="2" stroke-linejoin="round" marker-start="url(#mk)" marker-mid="url(#mk)" marker-end="url(#mk)" points="138.76,736.1 142.18,733.35 145.59,766.85 149.01,751.45 152.42,735.85 155.83,728.9 159.25,725.9 162.66,720.4 166.08,719.4 169.49,718.25 172.9,721.15 176.32,712.6 179.73,708.9 183.15,709 186.56,706.95 189.97,708.35 193.39,700.5 196.8,704.85 200.22,705.8 203.63,701.95 207.04,700.5 210.46,707 213.87,702.65 217.29,698.85 220.7,703.7 224.11,696.3 227.53,697.25 230.94,693.1 234.36,691.85 237.77,696.64 241.18,699.22 244.6,695.31 248.01,693.46 251.43,697.02 254.84,697.95 258.25,694.43 261.67,697.05 265.08,698.53 268.5,694.24 271.91,692.08 275.32,695.74 278.74,695.25 282.15,697.89 285.57,689.85 288.98,691.73 292.39,690.97 295.81,687.84 299.22,693.81 302.64,694.96 306.05,690.61 309.46,697.45 312.88,695.41 316.29,694.6 319.71,693.76 323.12,695.5 326.53,687.87 329.95,694.21 333.36,694.09 336.78,686.18 340.19,693.08 343.6,691.03 347.02,694.35 350.43,690.24 353.85,691.55 357.26,692.81 360.67,688.87 364.09,693.82 367.5,691.58 370.92,693.63 374.33,690.36 377.74,695.75 381.16,694.25 384.57,691.75 387.99,694.5 391.4,696.65 394.81,698.53 398.23,687.54 401.64,695.77 405.06,694.51 408.47,692.78 411.88,689.89 415.3,697.48 418.71,689.28 422.13,695.44 425.54,697.98 428.95,688.52 432.37,692.82 435.78,689.51 439.2,694.65 442.61,698.86 446.02,700.55 449.44,688.02 452.85,692.01 456.27,696.24 459.68,699.15 463.09,695.34 466.51,691.5 469.92,694.96 473.34,693.94 476.75,693.3 480.16,691.51 483.58,695.16 486.99,694.85 490.41,693.48 493.82,693.01 497.23,689.46 500.65,692.05 504.06,697.59 507.48,692.93 510.89,688.76 514.3,697.73 517.72,694.81 521.13,699.76 524.55,692.75 527.96,690.76 531.37,687.24 534.79,696.13 538.2,699.98 541.62,688.53 545.03,688.84 548.44,692.69 551.86,687.7 555.27,689.27 558.69,688.72 562.1,690.22 565.51,692.91 568.93,689.09 572.34,691.76 575.76,687.06 579.17,689.24 582.58,680.81 586,682.8 589.41,690 592.83,685.24 596.24,688.91 599.65,688.61 603.07,690.99 606.48,689.13 609.9,689.62 613.31,685.71 616.72,683.59 620.14,683.29 623.55,683.91 626.97,681.62 630.38,683.37 633.79,684.7 637.21,685.67 640.62,683.55 644.04,678.15 647.45,684.09 650.86,684.9 654.28,687.56 657.69,685.72 661.11,681.52 664.52,681.18 667.93,690.17 671.35,686 674.76,689.51 678.18,690.45 681.59,680.69 685,684.62 688.42,684.83 691.83,685.12 695.25,685.03 698.66,683.87 702.07,683.76 705.49,678.21 708.9,682.6 712.32,680.66 715.73,683.53 719.14,681.55 722.56,685.11 725.97,685.76 729.39,684.05 732.8,684.06 736.21,683.3 739.63,681.46 743.04,682.35 746.46,681.2 749.87,684.06 753.28,682.77 756.7,684.59 760.11,678.23 763.53,685.5 766.94,679.99 770.35,680.03 773.77,681.75 777.18,680.43 780.6,683.14 784.01,680.17 787.42,678.42 790.84,679.05 794.25,686.05 797.67,681.76 801.08,677.64 804.49,681.44 807.91,676.38 811.32,687.51 814.74,676.68 818.15,683.38 821.56,683.7 824.98,677.21 828.39,682.99 831.81,685.29 835.22,683.54 838.63,682.86 842.05,685.13 845.46,682.53 848.88,683.11 852.29,681.58 855.7,684.08 859.12,678.89 862.53,684.6 865.95,680.23 869.36,678.21 872.77,682.92 876.19,687.21 879.6,684.71 883.02,679.75 886.43,683.66 889.84,679.77 893.26,680.77 896.67,681.38 900.09,673.35 903.5,681.59 906.91,677.53 910.33,678.59 913.74,675.99 917.16,675.81 920.57,677.66 923.98,683.47 927.4,686.2 930.81,680.58 934.23,684.23 937.64,679.74 941.05,674.39 944.47,681.28 947.88,682.34 951.3,679.53 954.71,682.03 958.12,683 961.54,678.35 964.95,676.41 968.37,680.63 971.78,680.75 975.19,680.41 978.61,669 982.02,690.72 985.44,680.88 988.85,684.78 992.26,685.81 995.68,685.28 999.09,686.61 1002.51,682.09 1005.92,686.04 1009.33,690.51 1012.75,686.8 1016.16,682.8 1019.58,687.54 1022.99,690.39 1026.4,688.14 1029.82,685.75 1033.23,693.4 1036.65,684.87 1040.06,691.35 1043.47,690.33 1046.89,687.13 1050.3,695.68 1053.72,693.22 1057.13,688.64 1060.54,694.89 1063.96,691.89 1067.37,687.46 1070.79,691.88 1074.2,695.43 1077.61,697.08 1081.03,695.94 1084.44,695.96 1087.86,697.62 1091.27,695.51 1094.68,700.23 1098.1,696.97 1101.51,697.58 1104.93,698.53 1108.34,693.39 1111.75,694.68 1115.17,702.2 1118.58,698.39 1122,696.49 1125.41,698.46 1128.82,695.32 1132.24,697.42 1135.65,693.89 1139.07,696.58 1142.48,690.05 1145.89,699.23 1149.31,692.73 1152.72,688.79 1156.14,692.85 1159.55,691.95 1162.96,693.4 1166.38,688.94 1169.79,693.86 1173.21,704.33 1176.62,687.97 1180.03,693.13 1183.45,690.81 1186.86,692.3 1190.28,685.52 1193.69,687.7 1197.1,693.02 1200.52,691.37 1203.93,696.9 1207.35,689.17 1210.76,692.08 1214.17,701.28 1217.59,689.4 1221,689.2 1224.42,692.33 1227.83,692.56 1231.24,695.75 1234.66,693.66 1238.07,690.99 1241.49,694.45 1244.9,702.72 1248.31,698.47 1251.73,685.39 1255.14,694.45 1258.56,692.37 1261.97,697.65 1265.38,695.37 1268.8,702.66 1272.21,699.69 1275.63,699.9 1279.04,697.92 1282.45,697.51 1285.87,699.11 1289.28,702.57 1292.7,700.36 1296.11,697.73 1299.52,703.39 1302.94,700.11 1306.35,699.52 1309.77,697.46 1313.18,698.5 1316.59,698.56 1320.01,691.74 1323.42,704.61 1326.84,703.33 1330.25,700.95 1333.66,705.31 1337.08,703.5 1340.49,703.48 1343.91,694.29 1347.32,701.88 1350.73,704.6 1354.15,708.36 1357.56,709.32 1360.98,708.15 1364.39,699.76 1367.8,696.48 1371.22,705.76 1374.63,704.1 1378.05,707.33 1381.46,703.87 1384.87,705.15 1388.29,699.62 1391.7,706.18 1395.12,703.37 1398.53,706.14 1401.94,706.44 1405.36,704.44 1408.77,705.78 1412.19,704.6 1415.6,707.06 1419.01,706.11 1422.43,702.56 1425.84,702.33 1429.26,709.94 1432.67,703.75 1436.08,707.27 1439.5,705.16 1442.91,701.87 1446.33,701.12 1449.74,703.85 1453.15,704.17 1456.57,705.22 1459.98,698.87 1463.4,700.96 1466.81,702.47 1470.22,707.93 1473.64,694.73 1477.05,703.89 1480.47,700.6 1483.88,703.74 1487.29,700.63 1490.71,703.39 1494.12,707.29 1497.54,703.23 1500.95,703.43"/>
</g>
<rect x="135.3" y="534.9" width="1365.8" height="361.6" fill="none" stroke="#000" stroke-width="1.3"/>
<line x1="125.3" y1="896.5" x2="135.3" y2="896.5" stroke="#333" stroke-width="1.2"/>
<text x="68.27" y="905" font-size="23" textLength="44.79" lengthAdjust="spacingAndGlyphs">400</text>
<line x1="125.3" y1="790.1" x2="135.3" y2="790.1" stroke="#333" stroke-width="1.2"/>
<text x="67.5" y="798.6" font-size="23" textLength="45.58" lengthAdjust="spacingAndGlyphs">600</text>
<line x1="125.3" y1="683.7" x2="135.3" y2="683.7" stroke="#333" stroke-width="1.2"/>
<text x="67.72" y="692.2" font-size="23" textLength="45.35" lengthAdjust="spacingAndGlyphs">800</text>
<line x1="125.3" y1="577.3" x2="135.3" y2="577.3" stroke="#333" stroke-width="1.2"/>
<text x="49.56" y="585.8" font-size="23" textLength="63.44" lengthAdjust="spacingAndGlyphs">1,000</text>
<line x1="135.35" y1="896.5" x2="135.35" y2="906.5" stroke="#333" stroke-width="1.2"/>
<text x="127.57" y="936.2" font-size="23" textLength="15.56" lengthAdjust="spacingAndGlyphs">0</text>
<line x1="306.05" y1="896.5" x2="306.05" y2="906.5" stroke="#333" stroke-width="1.2"/>
<text x="290.84" y="936.2" font-size="23" textLength="30.41" lengthAdjust="spacingAndGlyphs">50</text>
<line x1="476.75" y1="896.5" x2="476.75" y2="906.5" stroke="#333" stroke-width="1.2"/>
<text x="455.1" y="936.2" font-size="23" textLength="42.37" lengthAdjust="spacingAndGlyphs">100</text>
<line x1="647.45" y1="896.5" x2="647.45" y2="906.5" stroke="#333" stroke-width="1.2"/>
<text x="625.8" y="936.2" font-size="23" textLength="42.37" lengthAdjust="spacingAndGlyphs">150</text>
<line x1="818.15" y1="896.5" x2="818.15" y2="906.5" stroke="#333" stroke-width="1.2"/>
<text x="795.23" y="936.2" font-size="23" textLength="45.55" lengthAdjust="spacingAndGlyphs">200</text>
<line x1="988.85" y1="896.5" x2="988.85" y2="906.5" stroke="#333" stroke-width="1.2"/>
<text x="965.93" y="936.2" font-size="23" textLength="45.55" lengthAdjust="spacingAndGlyphs">250</text>
<line x1="1159.55" y1="896.5" x2="1159.55" y2="906.5" stroke="#333" stroke-width="1.2"/>
<text x="1136.97" y="936.2" font-size="23" textLength="45.21" lengthAdjust="spacingAndGlyphs">300</text>
<line x1="1330.25" y1="896.5" x2="1330.25" y2="906.5" stroke="#333" stroke-width="1.2"/>
<text x="1307.67" y="936.2" font-size="23" textLength="45.21" lengthAdjust="spacingAndGlyphs">350</text>
<line x1="1500.95" y1="896.5" x2="1500.95" y2="906.5" stroke="#333" stroke-width="1.2"/>
<text x="1478.78" y="936.2" font-size="23" textLength="44.79" lengthAdjust="spacingAndGlyphs">400</text>
<text x="729.97" y="984.2" font-size="27" textLength="175.08" lengthAdjust="spacingAndGlyphs">Pulse number</text>
<text transform="translate(23.6,830) rotate(-90)" x="-2.26" y="0" font-size="27" textLength="216.98" lengthAdjust="spacingAndGlyphs">Pulse energy (μJ)</text>
</svg></body></html>
